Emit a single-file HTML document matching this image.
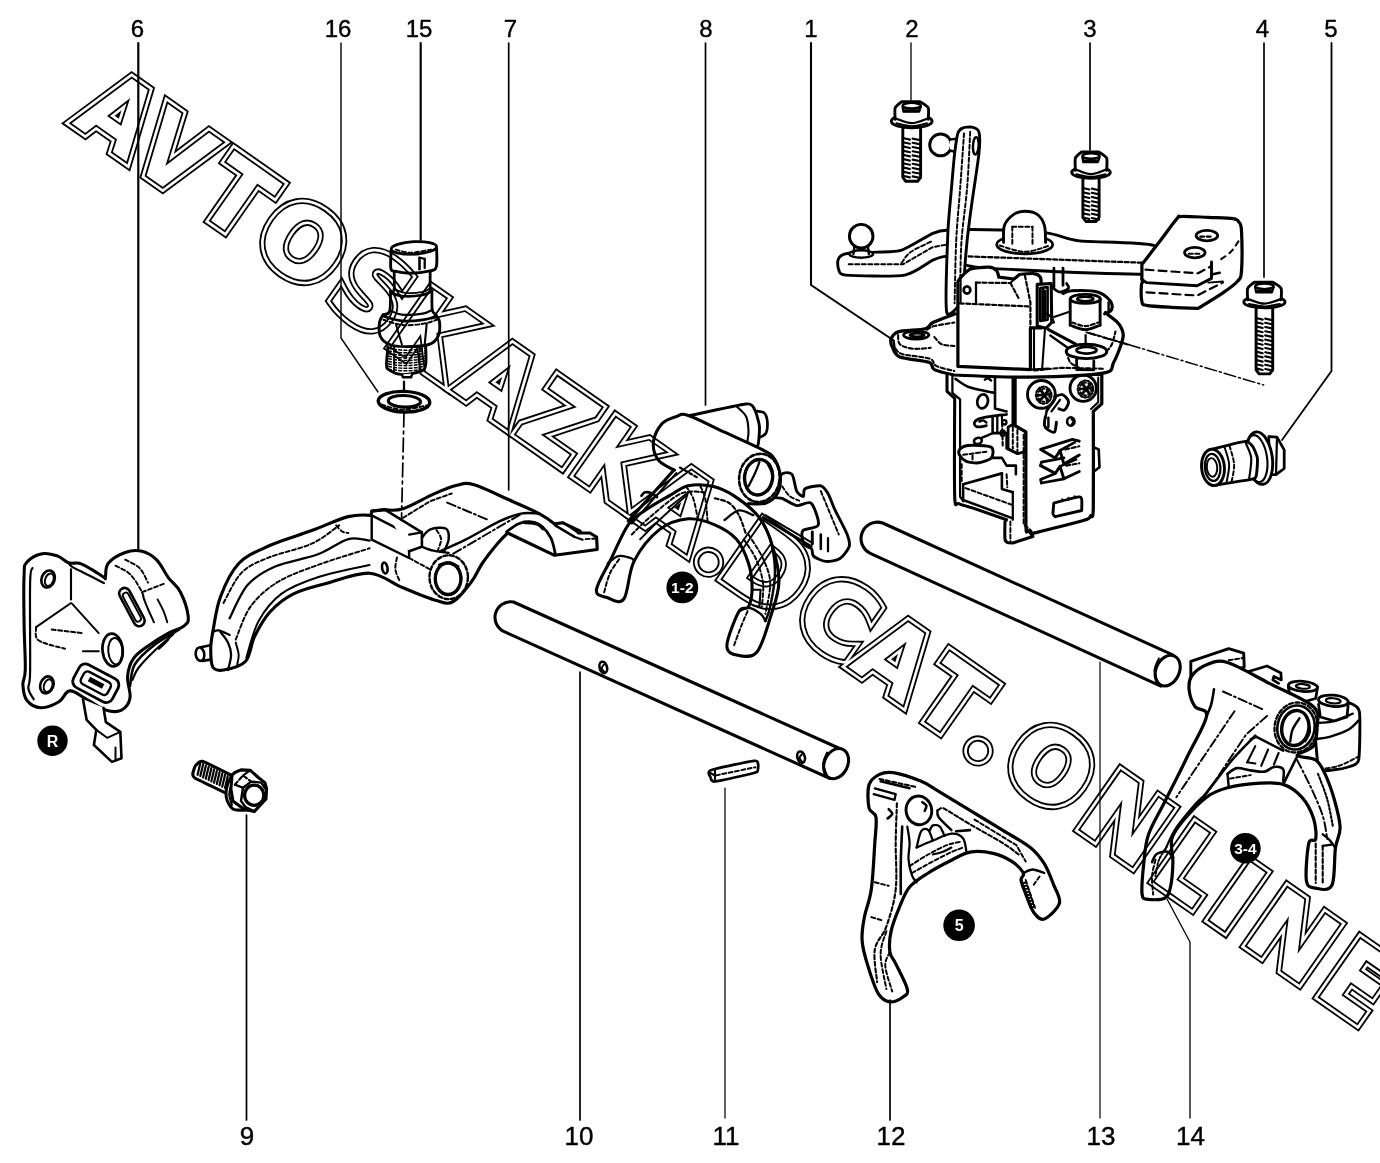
<!DOCTYPE html>
<html><head><meta charset="utf-8"><title>Diagram</title>
<style>
html,body{margin:0;padding:0;background:#fff;}
svg{display:block}
svg text{font-family:"Liberation Sans",sans-serif;}
.o{fill:#fff;stroke:#000;stroke-linejoin:round;stroke-linecap:round}
.n{fill:none;stroke:#000;stroke-linejoin:round;stroke-linecap:round}
.t{fill:none;stroke:#222;stroke-linejoin:round;stroke-linecap:round}
.k{fill:#000;stroke:none}
</style></head><body>
<svg width="1380" height="1163" viewBox="0 0 1380 1163">
<rect width="1380" height="1163" fill="#fff"/>
<!-- 20_p06.svg -->
<g>
<path class="o" stroke-width="3.07" d="M24.1 575.4C24.6 564.1 23.6 566.1 27 562.1C30.3 558.1 36.5 554.8 42.1 553.7C47.8 552.6 52.9 554.4 57.8 556.1C62.6 557.8 64.6 561.5 68.6 562.8C72.6 564.2 75.2 562.1 79.4 563.3C83.6 564.5 87 566.8 91.5 569.3C96 571.9 101.4 575.8 104 577.3C106.5 578.7 104.6 579.8 105.4 577.3C106.2 574.7 104.7 567.9 108.3 563.3C111.9 558.8 119 554.7 125.2 552.5C131.3 550.3 136.3 550 142 551.3C147.7 552.6 151.6 554.9 156.4 559.7C161.3 564.6 164.1 571.8 168.5 577.8C172.9 583.7 176.9 585.1 180.5 592.2C184.1 599.3 187.5 610.1 188.2 616.3C188.9 622.4 187.7 622.8 184.1 625.9C180.5 629 174.9 629.6 168.5 633.1C162.1 636.6 155.6 640.5 149.2 645.2C142.8 649.8 137.5 652.7 133.6 658.4C129.6 664.1 128.2 669.2 127.6 676.4C126.9 683.7 131.1 691.9 130 698.1C128.9 704.3 126 707.9 121.5 710.1C117.1 712.3 112.3 712.1 105.9 710.1C99.5 708.1 93.3 702.8 86.6 699.3C80 695.8 74.9 690.4 69.8 690.9C64.7 691.3 64.3 698.6 59 701.7C53.7 704.8 46.8 707.9 40.9 707.7C35 707.5 30.3 704.7 27 700.5C23.6 696.3 23.2 690.6 22.9 684.9C22.6 679.1 25.1 680.5 25.3 669.2C25.5 658 24.3 640.7 24.1 623.5C23.8 606.3 23.5 586.6 24.1 575.4Z"/>
<path class="n" stroke-width="2.19" d="M32.5 568.1C32.1 570.5 30.5 565.3 30.1 582.6C29.7 599.8 30.4 654 30.1 671.6C29.8 689.3 27.8 683.9 28.4 688.5C29 693.1 32.8 697.5 33.7 699.3"/>
<path class="n" stroke-width="2.19" d="M68.6 562.8C69.2 563.5 69.2 565 72.2 566.9C75.2 568.8 81.3 571.5 86.6 574.2C91.9 576.8 101.1 581.6 104 583.1"/>
<ellipse class="o" stroke-width="2.59" cx="48.1" cy="579" rx="6.5" ry="8.7" transform="rotate(20 48.1 579)"/>
<ellipse class="n" stroke-width="1.95" cx="49.3" cy="579.7" rx="4.1" ry="6.5" transform="rotate(20 49.3 579.7)"/>
<ellipse class="o" stroke-width="2.59" cx="46.9" cy="684.9" rx="6.5" ry="8.7" transform="rotate(20 46.9 684.9)"/>
<ellipse class="n" stroke-width="1.95" cx="48.1" cy="685.6" rx="4.1" ry="6.5" transform="rotate(20 48.1 685.6)"/>
<ellipse class="o" stroke-width="2.75" cx="112.6" cy="650" rx="10.1" ry="16.4" transform="rotate(-5 112.6 650)"/>
<ellipse class="n" stroke-width="1.95" cx="115.5" cy="651.2" rx="7.2" ry="13.2" transform="rotate(-5 115.5 651.2)"/>
<g transform="rotate(62 131.9 607.1)">
<rect class="o" stroke-width="2.6" x="110.9" y="601.6" width="42.0" height="11.0" rx="5.5"/>
<rect class="n" stroke-width="1.9" x="115.9" y="604.1" width="32.0" height="6.0" rx="3"/>
</g>
<g transform="rotate(28 95.8 683.2)">
<rect class="o" stroke-width="2.8" x="73.8" y="670.2" width="44.0" height="26.0" rx="7"/>
<rect class="n" stroke-width="2.4" x="80.8" y="676.2" width="30.0" height="14.0" rx="4"/>
<rect class="k" x="87.8" y="680.2" width="16.0" height="5.0"/>
</g>
<path class="n" stroke-width="2.11" d="M71 569.3L71 599.4"/>
<path class="n" stroke-width="1.95" d="M71 603L36.1 627.1"/>
<path class="n" stroke-width="1.95" d="M36.1 627.1C36.5 629.3 33.7 636.7 38.5 640.3C43.3 643.9 60.6 647.4 65 648.8" stroke-dasharray="4 2.5"/>
<path class="n" stroke-width="1.95" d="M72.2 603.8L98.7 633.1"/>
<path class="n" stroke-width="2.11" d="M83 651.2L98.7 651.2"/>
<path class="n" stroke-width="1.95" d="M51.7 629.5L81.8 633.1" stroke-dasharray="4 2.5"/>
<path class="n" stroke-width="1.95" d="M115.5 565.7C117.9 567.1 125.8 570.1 130 574.2C134.2 578.2 138.4 585.6 140.8 589.8C143.2 594 143.8 597.8 144.4 599.4" stroke-dasharray="4 2.5"/>
<path class="n" stroke-width="1.95" d="M125.2 559.7C127.6 561.1 135.8 564.3 139.6 568.1C143.4 571.9 146.6 580.2 148 582.6" stroke-dasharray="4 2.5"/>
<path class="n" stroke-width="1.95" d="M142 592.2L163.7 583.8" stroke-dasharray="4 2.5"/>
<path class="n" stroke-width="1.95" d="M143.2 597C144 599 146.2 604.8 148 609C149.8 613.3 153 620.1 154 622.3"/>
<path class="n" stroke-width="1.95" d="M157.6 599.4C158.6 601.4 162.1 607.6 163.7 611.5C165.3 615.3 166.7 620.5 167.3 622.3"/>
<path class="n" stroke-width="2.59" d="M179.3 629.5C175.1 632.1 161.5 639.3 154 645.2C146.6 651 138.8 657.6 134.8 664.4C130.8 671.2 130.8 682.5 130 686.1"/>
<path class="n" stroke-width="2.11" d="M173.3 634.3C170.1 637.1 159.8 645.6 154 651.2C148.2 656.8 142 663.2 138.4 668C134.8 672.8 133.4 678 132.4 680"/>
<path class="n" stroke-width="2.11" d="M168.5 633.1C168.5 634.1 170.1 636.5 168.5 639.1C166.9 641.7 160.4 647.2 158.8 648.8"/>
<path class="o" stroke-width="2.59" d="M83 699.3L86.6 719.8L96.3 729.9L93.9 745L111.9 761.9L121.5 758.3L120.3 731.8L105.9 722.2L103.5 707.7"/>
<path class="n" stroke-width="1.95" d="M96.3 729.9L107.1 737.8L120.3 731.8"/>
<path class="n" stroke-width="1.95" d="M115.5 747.4L115.5 760.7"/>
<circle class="k" cx="52.5" cy="740.7" r="15.2"/>
<text x="52.5" y="746.5" font-size="16" font-weight="bold" fill="#fff" text-anchor="middle">R</text>
</g>

<!-- 21_p07.svg -->
<g>
<path class="o" stroke-width="2.59" d="M200.7 647.2L218.9 643.5L218.9 658.4L202.2 660.9"/>
<ellipse class="o" stroke-width="2.59" cx="200" cy="654.2" rx="4.3" ry="6.7" transform="rotate(-8 200 654.2)"/>
<path class="o" stroke-width="3.15" d="M212.8 632C214.4 623.3 216.1 608.4 220.4 597C224.7 585.5 230.6 572 238.7 563.5C246.8 555 257 551.3 269.1 545.8C281.3 540.3 298.6 535.5 311.7 530.6C324.9 525.7 338.4 519.1 348.3 516.6C358.2 514.1 371.1 515.4 371.1 515.4L371.7 511.1L384.8 509.6C384.8 509.6 394.9 511.3 403 508.7C411.2 506.1 424.5 498 433.5 494.1C442.5 490.2 450.2 486.8 456.9 485.3C463.7 483.7 465.5 482.3 474 484.7C482.4 487 496.9 494.4 507.7 499.3C518.6 504.1 531.3 509.5 539.1 513.6C546.9 517.7 554.6 523.9 554.6 523.9L562.5 522.7L580.2 531.2L578.3 533L589.9 533L596.6 537L597.2 549.5L554.6 555.3L507.7 533C507.7 533 501.7 538.6 497.4 543.7C493.1 548.8 486.5 557.1 482.2 563.5C477.9 569.8 476.3 575.4 471.5 581.7C466.7 588.1 459.1 598.4 453.3 601.5C447.4 604.7 444.9 602.9 436.5 600.6C428.2 598.3 414.2 592.4 403 587.8C391.9 583.3 382.2 574 369.6 573.2C356.9 572.5 339.6 579.8 327 583.3C314.3 586.7 303 589.1 293.5 593.9C283.9 598.7 276.2 605.1 269.7 612.2C263.2 619.3 258.6 628.3 254.5 636.5C250.5 644.7 250.6 655.9 245.4 661.5C240.2 667.1 228.9 669.1 223.5 670C218.1 670.9 215 670.5 212.8 667C210.7 663.4 210.7 654.5 210.7 648.7C210.7 642.9 211.2 640.6 212.8 632Z"/>
<path class="n" stroke-width="2.27" d="M220.4 632C221.7 633.7 226.3 638.8 228 642.6C229.8 646.4 231.1 650.2 231.1 654.8C231.1 659.3 228.6 667.5 228 670"/>
<path class="n" stroke-width="1.95" d="M235.7 642.6C236.2 644.6 238.4 651.1 238.7 654.8C238.9 658.4 237.4 662.9 237.2 664.5"/>
<path class="n" stroke-width="2.27" d="M212.8 632C213.8 631.7 216.1 629.9 218.9 630.4C221.7 630.9 227.8 634.2 229.6 635"/>
<path class="n" stroke-width="1.95" d="M223.5 603C226.5 598 234.1 580.2 241.7 572.6C249.3 565 257.5 562.2 269.1 557.4C280.8 552.6 300.1 549 311.7 543.7C323.4 538.4 334.6 528.5 339.1 525.4" stroke-dasharray="4 2.5"/>
<path class="n" stroke-width="2.27" d="M229.6 618.3C232.6 612.7 240.2 593.4 247.8 584.8C255.4 576.2 263.6 571.6 275.2 566.5C286.9 561.4 305.7 558.9 317.8 554.3C330 549.8 339.6 541.4 348.3 539.1C356.9 536.8 366 540.4 369.6 540.7"/>
<path class="n" stroke-width="1.95" d="M235.7 639.6C238.2 634 243.8 615.7 250.9 606.1C258 596.4 267.1 588.6 278.3 581.7C289.4 574.9 302.6 570.6 317.8 565C333 559.4 360.9 551.1 369.6 548.3" stroke-dasharray="4 2.5"/>
<path class="n" stroke-width="1.95" d="M246.3 657.8C248.3 651.7 252.6 632 258.5 621.3C264.3 610.7 271.4 601.3 281.3 593.9C291.2 586.6 303.1 582 317.8 577.2C332.5 572.4 360.9 567 369.6 565"/>
<path class="n" stroke-width="1.95" d="M336.1 525.4C337.1 526.4 340.1 530.3 342.2 531.5C344.2 532.8 347.2 532.8 348.3 533" stroke-dasharray="4 2.5"/>
<path class="n" stroke-width="2.43" d="M371.7 511.1L371.7 539.7L409.1 558L409.1 534.6L371.7 515.4"/>
<path class="o" stroke-width="2.59" d="M384.8 509.6L421.9 532.4L421.9 546.7L409.1 551.3"/>
<path class="n" stroke-width="2.27" d="M409.1 534.6L421.9 532.4"/>
<path class="n" stroke-width="2.59" d="M371.7 511.1L384.8 509.6"/>
<path class="n" stroke-width="2.43" d="M421.9 537.6C423.3 536.2 426.5 530.9 430.4 529.4C434.4 527.9 442.6 526.9 445.7 528.5C448.7 530.1 449 535.3 448.7 539.1C448.4 542.9 444.9 549.3 444.1 551.3"/>
<path class="n" stroke-width="1.95" d="M436.5 530C437.3 531.5 440.8 535.8 441.1 539.1C441.3 542.4 438.6 548 438 549.8" stroke-dasharray="4 2.5"/>
<path class="n" stroke-width="2.27" d="M421.9 546.7C423.8 547.4 429 549.7 433.5 550.7C437.9 551.7 446.2 552.5 448.7 552.8"/>
<path class="n" stroke-width="1.95" d="M403 517.8L430.4 501.1L451.7 493.5" stroke-dasharray="4 2.5"/>
<path class="n" stroke-width="1.95" d="M447.2 502.6L488.3 520" stroke-dasharray="9 3 2 3"/>
<path class="n" stroke-width="2.43" d="M439.9 551.3C444.2 549.3 456.1 544.5 466 539.4C476 534.4 490.7 525.5 499.8 521.2C509 516.9 514.3 514.8 520.8 513.6C527.4 512.3 536 513.6 539.1 513.6"/>
<path class="n" stroke-width="1.95" d="M453.3 553.7L520.8 514.2" stroke-dasharray="9 3 2 3"/>
<path class="n" stroke-width="2.75" d="M506.5 531.8C508.5 530.5 514 525.6 518.1 523.9C522.2 522.2 527.2 521.4 531.2 521.8C535.1 522.2 538.5 523.6 541.8 526.3C545.1 529.1 548.7 533.8 551 538.2C553.2 542.7 554.5 550.6 555.2 553.1"/>
<path class="n" stroke-width="3.55" d="M524.8 522.4C526.8 522.6 533.9 522.9 537 523.9C540 524.9 542 527.7 543 528.5"/>
<path class="n" stroke-width="2.11" d="M578.3 533L567.4 525.4L562.5 522.7"/>
<path class="n" stroke-width="2.59" d="M574.1 536.7L555.2 525.4"/>
<path class="n" stroke-width="2.27" d="M574.1 536.7L582.6 539.7"/>
<path class="n" stroke-width="1.95" d="M585.7 539.1L596.6 538.5" stroke-dasharray="4 2.5"/>
<ellipse class="n" stroke-width="2.43" cx="448.7" cy="577.2" rx="19.2" ry="21.9" stroke-dasharray="4 2.5"/>
<ellipse class="o" stroke-width="3.39" cx="448.1" cy="578.7" rx="12.8" ry="15.8"/>
<path class="n" stroke-width="1.95" d="M457.8 566.5C458.4 568.6 461.7 574.6 461.5 578.7C461.2 582.8 457.2 588.8 456.3 590.9"/>
<path class="n" stroke-width="3.23" d="M439.6 565C441.1 564.6 445.7 562.6 448.7 562.9C451.7 563.1 456.3 565.9 457.8 566.5"/>
<ellipse class="n" stroke-width="2.59" cx="384.8" cy="568" rx="2.7" ry="5.5" transform="rotate(-10 384.8 568)"/>
<path class="n" stroke-width="1.95" d="M397 557.4C396.7 559.4 394.9 565.5 395.4 569.6C395.9 573.6 399.2 579.7 400 581.7" stroke-dasharray="4 2.5"/>
<path class="n" stroke-width="1.95" d="M409.1 558L430.4 569.6" stroke-dasharray="4 2.5"/>
</g>

<!-- 22_p15.svg -->
<g>
<path class="n" stroke-width="2.27" d="M404 381.7L404 391"/>
<path class="n" stroke-width="1.7" stroke-dasharray="14 4 3 4" d="M404.0 413.0L401.5 520.0"/>
<path class="o" stroke-width="2.75" d="M387.9 346.6C387.7 349.7 386.2 361.2 386.5 365.2C386.7 369.1 387 368.8 389.6 370.3C392.1 371.9 396.8 374.3 401.9 374.5C407.1 374.7 416.6 372.9 420.5 371.4C424.5 369.8 424.8 369.5 425.7 365.2C426.6 360.9 425.7 348.8 425.7 345.6"/>
<g stroke="#000" stroke-width="1.5" fill="none" stroke-dasharray="4 1.2">
<path d="M387.9 348.3Q406.6 352.3 425.3 347.9"/>
<path d="M387.9 350.8Q406.6 354.8 425.3 350.5"/>
<path d="M387.9 353.4Q406.6 357.4 425.3 353.1"/>
<path d="M387.9 356.0Q406.6 360.0 425.3 355.7"/>
<path d="M387.9 358.6Q406.6 362.6 425.3 358.2"/>
<path d="M387.9 361.2Q406.6 365.2 425.3 360.8"/>
<path d="M387.9 363.7Q406.6 367.7 425.3 363.4"/>
<path d="M387.9 366.3Q406.6 370.3 425.3 366.0"/>
<path d="M387.9 368.9Q406.6 372.9 425.3 368.6"/>
</g>
<path class="n" stroke-width="1.95" d="M394.1 347.6L394.1 371.4" stroke-dasharray="4 2.5"/>
<path class="n" stroke-width="1.95" d="M419.5 347.6L419.5 371.8" stroke-dasharray="4 2.5"/>
<path class="o" stroke-width="2.43" d="M401.9 374.5L403 377.2L411.2 377.2L412.3 373.4"/>
<path class="o" stroke-width="2.91" d="M383.4 314.6C382.7 315.8 380.2 318.2 379.6 321.8C379.1 325.4 378.6 332.5 380.3 336.3C381.9 340.1 385.3 342.8 389.6 344.5C393.9 346.3 399.5 346.6 406.1 346.6C412.6 346.6 423.5 346.3 428.8 344.5C434.1 342.8 436.3 340.1 438.1 336.3C439.9 332.5 439.9 325.3 439.5 321.8C439.2 318.4 436.6 316.7 436 315.6"/>
<path class="n" stroke-width="1.95" d="M395.8 323.9L401.9 344.5"/>
<path class="n" stroke-width="2.11" d="M426.7 323.9L424.7 344.5"/>
<path class="n" stroke-width="1.95" d="M383.4 319.8C386.5 320.6 395.4 324.2 401.9 324.9C408.5 325.6 416.7 324.8 422.6 323.9C428.4 323 434.6 320.4 437 319.8" stroke-dasharray="4 2.5"/>
<path class="o" stroke-width="2.75" d="M390.6 290.9C390.4 294.3 390.8 307.4 389.6 311.5C388.4 315.6 381.3 314.1 383.4 315.6C385.4 317.2 395.4 320.1 401.9 320.8C408.5 321.5 416.9 320.6 422.6 319.8C428.3 318.9 434.4 317.2 436 315.6C437.6 314.1 433 314.6 432.3 310.5C431.6 306.3 432 294.1 431.9 290.9"/>
<path class="n" stroke-width="2.11" d="M390 310.5C392 311.2 396.5 314.1 401.9 314.6C407.4 315.1 417.5 314.4 422.6 313.6C427.7 312.8 430.7 310.5 432.3 309.8"/>
<path class="o" stroke-width="2.75" d="M394.1 270.2C394.1 273.5 394.7 286.2 394.1 289.8C393.5 293.4 389.3 290.9 390.6 291.9C391.9 292.9 396.6 295.5 401.9 296C407.3 296.5 417.6 295.8 422.6 295C427.6 294.1 430.6 291.9 431.9 290.9C433.2 289.8 430.5 292.2 430.2 288.8C430 285.3 430.2 273.3 430.2 270.2"/>
<path class="n" stroke-width="1.95" d="M394.1 289.2C396.1 289.8 401.3 292.5 406.1 292.9C410.8 293.4 418.6 292.6 422.6 291.9C426.6 291.1 429 289 430.2 288.4"/>
<path class="o" stroke-width="2.91" d="M391.2 249.6C391.1 252.7 390.2 264.5 390.8 268.1C391.4 271.8 391.5 270.4 394.7 271.2C398 272.1 404.5 273.3 410.2 273.3C415.9 273.3 424.5 272.3 428.8 271.2C433.1 270.2 434.9 270.9 436.2 267.1C437.5 263.3 436.6 251.6 436.6 248.5"/>
<ellipse class="o" stroke-width="2.75" cx="413.9" cy="247.9" rx="22.7" ry="6.2" transform="rotate(-3 413.9 247.9)"/>
<path class="n" stroke-width="1.95" d="M395.8 249.6C398.2 250.1 404.4 252.7 410.2 252.7C416.1 252.7 427.4 250.1 430.9 249.6" stroke-dasharray="4 2.5"/>
<path class="n" stroke-width="2.59" d="M419.5 257.8L419.5 269.2"/>
<path class="n" stroke-width="2.27" d="M424.7 258.8L424.7 268.1"/>
<path class="n" stroke-width="2.11" d="M419.5 257.8L424.7 258.8"/>
<path class="n" stroke-width="2.27" d="M401.9 254.1L418.5 254.1"/>
<ellipse class="o" stroke-width="3.39" cx="404" cy="401.7" rx="25.8" ry="10.3" transform="rotate(2 404 401.7)"/>
<ellipse class="o" stroke-width="3.07" cx="404.4" cy="401.3" rx="16.1" ry="5.8" transform="rotate(2 404.4 401.3)"/>
<path class="n" stroke-width="1.95" d="M381.3 404.4C384.7 405.3 394.4 409.4 401.9 409.6C409.5 409.8 422.6 406.1 426.7 405.5" stroke-dasharray="4 2.5"/>
</g>

<!-- 23_p08.svg -->
<g>
<path class="o" stroke-width="2.75" d="M757 411.2C758.2 411.5 762.5 411.2 764.2 412.9C765.9 414.6 767 417.9 767.3 421.3C767.6 424.7 767.4 430.5 765.9 433.3C764.3 436.1 759.4 437.3 758.2 438.2"/>
<path class="o" stroke-width="2.91" d="M688.3 416C694.1 414.8 739.5 404.6 746.1 404C752.7 403.3 753.2 407 754.5 409.3C755.9 411.5 759 422.5 759.4 426.1C759.7 429.8 758.8 443.8 757.7 445.9C756.6 447.9 749.4 446.5 748.5 446.6"/>
<path class="n" stroke-width="2.11" d="M736.5 406.4C738.1 408.1 744.1 412.4 746.1 416.5C748.1 420.6 748.3 426.7 748.5 430.9C748.7 435.1 747.5 440 747.3 441.8"/>
<path class="o" stroke-width="2.91" d="M781 474.7C783.6 471.9 789.8 472.1 791.9 474.3C794 476.4 795.1 488.2 796.7 491.1C798.2 494.1 802.3 496.7 803.4 496.4C804.5 496.1 802.8 490.1 805.1 488.7C807.4 487.3 817.7 485.2 820.8 485.8C823.8 486.5 826.1 490.3 828 493.5C829.9 496.8 832.6 504.9 835.2 510.4C837.8 515.8 845.4 529.6 847.2 534.5C849.1 539.3 850.1 543.3 849.2 546.5C848.2 549.7 843.2 556.5 840 558.5C836.9 560.5 829.1 561.7 825.6 561.4C822 561.1 815.4 557.8 813.5 556.1C811.7 554.5 812.9 550.5 811.6 548.9C810.3 547.3 805.1 546.5 803.9 544.1C802.7 541.7 800.8 533.4 802.7 530.8C804.6 528.3 817.2 528.5 818.3 524.8C819.5 521.1 814 505.7 811.1 503.2C808.2 500.6 800.5 506.2 796.7 505.6C792.8 504.9 785.4 499.6 782.2 498.3C779 497.1 772.8 499.1 772.6 495.9C772.4 492.8 778.5 477.6 781 474.7Z"/>
<path class="n" stroke-width="1.95" d="M820.8 491.1L838.8 534.5" stroke-dasharray="4 2.5"/>
<path class="n" stroke-width="2.91" d="M812.3 532L812.3 544.1"/>
<path class="n" stroke-width="2.59" d="M820.8 534.5L820.8 548.9"/>
<path class="n" stroke-width="2.27" d="M828 538.1L828 551.3"/>
<path class="n" stroke-width="1.95" d="M782.2 486.3C783.4 487.9 786.6 493.5 789.5 495.9C792.3 498.3 797.5 499.9 799.1 500.7" stroke-dasharray="4 2.5"/>
<path class="o" stroke-width="0" d="M688.3 415.5C696.4 418.1 711.8 426.3 724.5 432.1C737.1 438 755.8 446.1 764.2 450.7C772.6 455.3 772.3 455.5 775 459.8C777.7 464.2 779.9 471.1 780.3 476.7C780.7 482.3 779.9 489.1 777.4 493.5C774.9 497.9 770.2 501.5 765.4 503.2C760.6 504.8 757 505.8 748.5 503.2C740.1 500.5 727.3 493 714.8 487.5C702.4 482 683.3 474.5 673.9 469.9C664.5 465.3 661.7 464.5 658.2 459.8C654.8 455.1 652.8 447.8 653.4 441.8C654 435.7 658 427.9 661.9 423.7C665.7 419.5 671.9 417.8 676.3 416.5C680.7 415.1 680.3 412.9 688.3 415.5Z" stroke="none"/>
<path class="n" stroke-width="3.07" d="M674.4 470.2C671.7 468.4 661.7 464.6 658.2 459.8C654.8 455.1 652.8 447.8 653.4 441.8C654 435.7 658 427.9 661.9 423.7C665.7 419.5 671.9 417.8 676.3 416.5C680.7 415.1 680.3 412.9 688.3 415.5C696.4 418.1 711.8 426.3 724.5 432.1C737.1 438 755.8 446.1 764.2 450.7C772.6 455.3 772.3 455.5 775 459.8C777.7 464.2 779.9 471.1 780.3 476.7C780.7 482.3 779.9 489.1 777.4 493.5C774.9 497.9 770.2 501.5 765.4 503.2C760.6 504.8 751.3 503.6 748.5 503.6"/>
<path class="n" stroke-width="2.11" d="M679.9 467.5L698 477.9" stroke-dasharray="3 2.5"/>
<ellipse class="n" stroke-width="2.59" cx="759.4" cy="477.9" rx="20.2" ry="24.1" transform="rotate(8 759.4 477.9)" stroke-dasharray="4 2.5"/>
<ellipse class="o" stroke-width="3.39" cx="758.6" cy="477.2" rx="14" ry="17.8" transform="rotate(8 758.6 477.2)"/>
<path class="n" stroke-width="2.27" d="M759.4 462.2C758.6 464.2 756.4 470.3 754.5 474.3C752.7 478.3 749.5 484.3 748.5 486.3"/>
<path class="n" stroke-width="1.95" d="M767.8 464.6C768.6 466.6 772.6 472.3 772.6 476.7C772.6 481.1 768.6 488.7 767.8 491.1"/>
<path class="o" stroke-width="3.07" d="M688.3 485.8C695.6 484.2 704.8 484.6 712.4 486.3C720 488 726.3 490.7 734.1 495.9C741.9 501.1 752.9 509.2 759.4 517.6C765.8 526 769.4 535.7 772.6 546.5C775.9 557.3 779.2 571 778.9 582.6C778.5 594.2 774.3 604.8 770.7 616.3C767 627.9 762.5 645.4 757 651.9C751.5 658.4 742.7 656.4 737.7 655.3C732.7 654.3 726.7 653 726.9 645.7C727.1 638.4 735.3 618 738.9 611.5C742.5 605 746.3 610.7 748.5 606.7C750.7 602.7 752.1 594.6 752.1 587.4C752.1 580.2 751.1 571.4 748.5 563.3C745.9 555.3 742.1 545.7 736.5 539.3C730.9 532.8 722.8 528.2 714.8 524.8C706.8 521.4 697.6 518 688.3 518.8C679.1 519.6 668.5 522.6 659.4 529.6C650.4 536.7 640.1 549.4 634.2 560.9C628.2 572.5 628.4 592.9 623.8 599C619.3 605.1 611.5 599.1 607 597.5C602.4 596 595.6 596.3 596.4 589.8C597.1 583.3 606 569.4 611.3 558.5C616.6 547.7 622.5 532.8 628.2 524.8C633.8 516.8 638.2 515.2 645 510.4C651.8 505.6 661.9 500 669.1 495.9C676.3 491.8 681.1 487.4 688.3 485.8Z"/>
<path class="n" stroke-width="1.95" d="M631.8 534.5C635.2 531.2 644 522 652.2 515.2C660.5 508.4 672.3 497.3 681.1 493.5C689.9 489.7 701.2 492.5 705.2 492.3" stroke-dasharray="4 2.5"/>
<path class="n" stroke-width="1.95" d="M640.2 539.3C643.4 536.1 651.8 527.2 659.4 520C667.1 512.8 681.5 499.9 685.9 495.9"/>
<path class="n" stroke-width="3.07" d="M673.9 469.9L628.2 521.2"/>
<path class="n" stroke-width="1.95" d="M676.3 473.1L631.8 523.6"/>
<path class="n" stroke-width="2.59" d="M641.4 495.9C642 495.3 643.2 492.7 645 492.3C646.8 491.9 650.2 492.7 652.2 493.5C654.2 494.3 656.2 496.5 657 497.1"/>
<path class="n" stroke-width="1.95" d="M685.9 486.3C687.1 488.3 691.1 492.7 693.2 498.3C695.2 504 697.2 516.4 698 520" stroke-dasharray="4 2.5"/>
<path class="n" stroke-width="1.95" d="M700.4 486.3C701.2 488.3 704 492.5 705.2 498.3C706.4 504.2 707.2 517.4 707.6 521.2" stroke-dasharray="4 2.5"/>
<path class="n" stroke-width="2.11" d="M714.8 498.3C717.2 499.1 725.3 500.3 729.3 503.2C733.3 506 736.1 510 738.9 515.2C741.7 520.4 744.9 531.2 746.1 534.5" stroke-dasharray="4 2.5"/>
<path class="n" stroke-width="2.27" d="M724.5 520C726.9 518.4 734.1 511.2 738.9 510.4C743.7 509.6 750.9 514.4 753.3 515.2"/>
<path class="n" stroke-width="1.95" d="M743.7 539.3C745.7 542.5 752.5 551.3 755.8 558.5C759 565.8 762 574.6 763 582.6C764 590.6 762 602.7 761.8 606.7" stroke-dasharray="4 2.5"/>
<path class="n" stroke-width="1.95" d="M748.5 534.5C750.9 538.5 759.4 550.5 763 558.5C766.6 566.6 769.8 573.4 770.2 582.6C770.6 591.8 766.2 608.7 765.4 613.9" stroke-dasharray="4 2.5"/>
<path class="n" stroke-width="2.43" d="M759.4 517.6C761.2 521.2 767.6 530 770.2 539.3C772.8 548.5 775 561.7 775 573C775 584.2 771.8 598.7 770.2 606.7C768.6 614.7 766.2 618.7 765.4 621.1"/>
<path class="n" stroke-width="2.91" d="M763 517.6L811.1 546.5"/>
<path class="n" stroke-width="1.95" d="M765.4 515.2L812.3 542.9"/>
<path class="n" stroke-width="2.27" d="M607.7 563.3C609.5 562.1 614.5 556.9 618.5 556.1C622.5 555.3 629.2 557.5 631.8 558.5C634.4 559.5 633.8 561.5 634.2 562.1"/>
<path class="n" stroke-width="1.95" d="M604.1 592.2C605.1 589 607.5 578.6 610.1 573C612.7 567.4 618.1 560.9 619.7 558.5" stroke-dasharray="4 2.5"/>
<path class="n" stroke-width="2.27" d="M738.9 611.5C740.5 610.9 744.9 607.5 748.5 607.9C752.1 608.3 757.8 611.7 760.6 613.9C763.4 616.1 764.6 619.9 765.4 621.1"/>
<path class="n" stroke-width="1.95" d="M734.1 645.2C735.3 642 738.9 632 741.3 625.9C743.7 619.9 747.3 611.9 748.5 609.1" stroke-dasharray="4 2.5"/>
<path class="n" stroke-width="2.11" d="M753.3 589.8L760.6 589.8L759.4 606.7L753.3 605.5"/>
<circle class="k" cx="682.3" cy="587.4" r="15.9"/>
<text x="682.3" y="593" font-size="15.5" font-weight="bold" fill="#fff" text-anchor="middle">1-2</text>
</g>

<!-- 24_p01a.svg -->
<g>
<path class="o" stroke-width="2.91" d="M837.8 261.1C838 259.5 839.6 256.7 840.9 255.8C842.2 254.9 844.5 253.8 848.7 253.3C852.9 252.9 870.6 252.5 876.7 252.1C882.9 251.7 895.1 252.4 901.7 250.2C908.2 248 927.4 235.8 932.8 233.4C938.3 231 940.4 230.4 948.4 230C956.4 229.6 989.7 229.6 1001.4 230C1013 230.3 1039 231.8 1048.1 233.1C1057.2 234.4 1066.9 239.4 1079.3 240.9C1091.6 242.3 1145.3 241.7 1154.1 245.5C1162.8 249.4 1172.2 270.9 1154.1 273.6C1135.9 276.3 1019.9 269.8 998.3 268.9C976.6 268 974.7 267.3 968.7 265.8C962.7 264.3 951 257.1 946.8 256.4C942.7 255.8 937.7 258 932.8 260.2C927.9 262.4 915 273.4 904.8 275.1C894.6 276.9 853.3 275.8 845.6 275.1C837.9 274.5 839.6 271.2 838.7 269.5C837.8 267.9 837.5 262.7 837.8 261.1Z"/>
<path class="n" stroke-width="2.27" d="M968.7 256.4L1141.6 262.7" stroke-dasharray="4 2.5"/>
<path class="n" stroke-width="1.95" d="M848.7 264.2L903.2 264.2L932.8 247.1L946.8 244.6" stroke-dasharray="4 2.5"/>
<path class="n" stroke-width="1.95" d="M901.7 262.7C903.2 260.9 905.8 255.4 911 251.8C916.2 248.1 929.2 242.7 932.8 240.9" stroke-dasharray="4 2.5"/>
<ellipse class="o" stroke-width="2.43" cx="861.2" cy="254" rx="11.8" ry="3.7"/>
<path class="n" stroke-width="2.43" d="M854.3 247.1L853.4 254"/>
<path class="n" stroke-width="2.43" d="M868 247.1L868.9 254"/>
<ellipse class="o" stroke-width="2.91" cx="861.2" cy="236.2" rx="11.8" ry="11.8"/>
<path class="n" stroke-width="2.11" d="M853.4 245.5C854.7 246.1 858.6 248.7 861.2 248.7C863.8 248.7 867.7 246.1 868.9 245.5"/>
<ellipse class="o" stroke-width="2.75" cx="1024.7" cy="244.6" rx="28" ry="9.3"/>
<path class="n" stroke-width="1.95" d="M999.8 245.5C1004 246.6 1016.4 251.8 1024.7 251.8C1033.1 251.8 1045.5 246.6 1049.7 245.5" stroke-dasharray="4 2.5"/>
<path class="o" stroke-width="2.91" d="M1003.6 242.4C1003.7 239.6 1002.8 230 1004.5 225.3C1006.2 220.6 1010.5 216.7 1013.8 214.4C1017.2 212 1020.9 211.3 1024.7 211.3C1028.6 211.3 1033.9 212 1037.2 214.4C1040.5 216.7 1043 220.6 1044.4 225.3C1045.8 230 1045.4 239.6 1045.6 242.4"/>
<path class="n" stroke-width="1.95" d="M1012.3 226.8L1012.3 244" stroke-dasharray="4 2.5"/>
<path class="n" stroke-width="1.95" d="M1032.5 226.8L1032.5 245.5" stroke-dasharray="4 2.5"/>
<path class="n" stroke-width="1.95" d="M1012.3 226.8L1032.5 226.8" stroke-dasharray="4 2.5"/>
<path class="o" stroke-width="3.23" d="M1141.9 264.5C1141.9 264.5 1155.1 247.4 1161 239.7C1166.8 232.1 1173.5 222.4 1177 218.6C1180.4 214.7 1176.4 216.7 1181.6 216.5C1186.8 216.3 1199.8 217 1208.4 217.3C1217 217.7 1228.1 217.8 1233.2 218.6C1238.3 219.4 1237.5 220.1 1238.9 222.2C1240.3 224.3 1241 222.8 1241.5 231C1241.9 239.1 1242.1 262.8 1241.5 271.2C1240.8 279.6 1240.4 277.9 1237.3 281.5C1234.2 285.1 1229.4 288.4 1222.9 292.9C1216.3 297.4 1198.1 308.4 1198.1 308.4C1198.1 308.4 1179.9 307.8 1171.3 307.3C1162.7 306.8 1151.4 306.2 1146.5 305.3C1141.6 304.3 1142.7 304.9 1141.9 301.7C1141 298.4 1141.2 288.9 1141.4 285.7C1141.5 282.4 1142.9 282 1142.9 282L1141.9 279.5L1141.9 264.5Z"/>
<path class="n" stroke-width="2.91" d="M1141.9 279.5L1146.5 282.6L1197.1 285.7L1211.5 278.4L1211.5 261.9"/>
<path class="n" stroke-width="2.19" d="M1145.5 269.7L1198.1 273.3L1211.5 266" stroke-dasharray="8 5"/>
<path class="n" stroke-width="2.19" d="M1146.5 292.4L1197.1 295.5L1222.9 282.6" stroke-dasharray="8 5"/>
<path class="n" stroke-width="2.43" d="M1212.6 274.3L1219.8 272.8"/>
<path class="n" stroke-width="2.11" d="M1238.4 241.3C1237.2 243 1234.4 248.3 1231.1 251.6C1227.9 254.9 1220.8 259.3 1218.8 260.9" stroke-dasharray="5 5"/>
<path class="n" stroke-width="1.95" d="M1208.4 282.6L1222.9 281.5"/>
<ellipse class="n" stroke-width="2.75" cx="1206.9" cy="235.6" rx="10.8" ry="5.2"/>
<path class="n" stroke-width="2.11" d="M1200.2 236.6L1212.6 236.6" stroke-dasharray="4 2.5"/>
<ellipse class="n" stroke-width="2.75" cx="1194.8" cy="252.6" rx="10.3" ry="5.2"/>
<path class="n" stroke-width="2.11" d="M1188.8 253.7L1201.2 253.7" stroke-dasharray="4 2.5"/>
<ellipse class="o" stroke-width="2.91" cx="940.6" cy="144.9" rx="10.9" ry="10.9"/>
<path class="o" stroke-width="2.43" d="M950 139.6L956.2 138.7L956.2 152.1L950 150.5"/>
<path class="o" stroke-width="2.91" d="M957.8 133.4C958.7 130.4 960.8 128.8 962.4 128.1C964.1 127.3 969.8 126.7 971.8 127.1C973.7 127.6 978.1 128.7 978.9 131.8C979.8 134.9 979.8 145.3 978.9 153.6C978.1 162 973.2 193.3 971.8 203.5C970.4 213.7 967.9 232.9 967.1 240.9C966.3 248.9 964.9 265.5 964.6 272C964.3 278.6 966.7 292.2 964.6 297C962.5 301.7 948.8 319.8 946.8 312.5C944.9 305.3 947.2 249.2 947.8 234.6C948.3 220.1 950.7 197.4 951.5 187.9C952.3 178.4 953.9 160 954.6 153.6C955.4 147.3 956.8 136.4 957.8 133.4Z"/>
<path class="n" stroke-width="1.95" d="M964 133.4C963.4 142.5 961.5 170 960.2 187.9C958.9 205.8 957.1 221.7 956.2 240.9C955.3 260.1 954.9 292.8 954.6 303.2" stroke-dasharray="4 2.5"/>
<path class="n" stroke-width="1.95" d="M970.2 131.8C969.7 141.2 968.6 169.7 967.1 187.9C965.6 206.1 962.6 224.8 961.5 240.9C960.4 257 960.5 277.2 960.2 284.5" stroke-dasharray="4 2.5"/>
<ellipse class="o" stroke-width="2.43" cx="975.8" cy="145.8" rx="2.8" ry="8.7" transform="rotate(3 975.8 145.8)"/>
</g>

<!-- 25_p01b.svg -->
<g>
<path class="o" stroke-width="3.07" d="M947 371.2L947 391.3L954.7 398.3C954.7 398.3 954.2 482.6 954.7 496.6C955.2 510.6 956.4 502.1 958.6 503.6C960.7 505 971 507.4 971 507.4L1006.6 519.8L1005 521.7C1005 521.7 1004.6 536.4 1005 539.2C1005.4 542 1008.1 542.7 1008.1 542.7L1012.8 543L1032.9 536.5L1026.7 527.6L1026.7 371.2L947 371.2Z"/>
<path class="n" stroke-width="2.27" d="M952.4 374.3L952.4 392.9L960.1 399.4L960.1 496.6L963.2 501.2"/>
<path class="n" stroke-width="2.75" d="M963.2 484.2L1001.9 473.4"/>
<path class="n" stroke-width="2.43" d="M963.2 484.2L963.2 500L1012.8 518.3"/>
<path class="n" stroke-width="2.03" d="M965.5 488.1L1012.8 505.1" stroke-dasharray="4 2.5"/>
<path class="n" stroke-width="2.27" d="M1012.8 492L1012.8 519.8"/>
<path class="n" stroke-width="1.95" d="M1010.4 521.4L1010.4 541.5" stroke-dasharray="4 2.5"/>
<path class="n" stroke-width="2.59" d="M955.5 378.9C957.5 380.2 962.7 384.6 967.9 386.7C973 388.7 981.9 390.3 986.4 391.3C991 392.4 993.5 392.6 995 392.9"/>
<path class="n" stroke-width="2.59" d="M995 374.3L995 408.4L1006.6 411.4"/>
<path class="n" stroke-width="2.59" d="M1012.8 374.3L1012.8 424.6"/>
<path class="n" stroke-width="2.43" d="M984.9 379.7C985.4 379.5 987 378 988 378.2C989 378.3 990.6 380.1 991.1 380.5"/>
<ellipse class="o" stroke-width="2.75" cx="982.6" cy="401.4" rx="5.3" ry="7.1" transform="rotate(12 982.6 401.4)"/>
<path class="n" stroke-width="2.75" d="M1006.6 414.5C1004.3 414.8 997 415.4 992.6 416.1C988.3 416.7 983.3 417.3 980.3 418.4C977.2 419.5 974.9 421.2 974.4 422.6C973.9 424 975.1 426.4 977.2 426.9C979.2 427.4 984.9 425.9 986.4 425.7"/>
<path class="n" stroke-width="2.43" d="M979.5 421.5C980.1 421.3 982.2 420.2 983.4 420.4C984.5 420.6 985.9 422.2 986.4 422.6"/>
<ellipse class="n" stroke-width="2.59" cx="977.9" cy="440.9" rx="4" ry="3.1" transform="rotate(-15 977.9 440.9)"/>
<path class="n" stroke-width="2.43" d="M981.8 437.8C983.4 437.1 989.3 434.7 991.1 433.9C992.9 433.1 992.4 433.3 992.6 433.1"/>
<path class="n" stroke-width="2.59" d="M992.6 416.1L992.6 433.1L1006.6 433.1L1006.6 448.6L1017.4 453.6"/>
<path class="n" stroke-width="2.27" d="M997.3 416.9L997.3 431.6"/>
<path class="n" stroke-width="2.11" d="M1001.9 416.1L1002.7 445.5" stroke-dasharray="4 2.5"/>
<path class="o" stroke-width="2.91" d="M959.4 449.8C960.4 448.5 963.6 445.9 967.9 445.5C972.1 445.1 988 445.4 991.1 447.1C994.2 448.7 993.1 455.8 991.4 457.9C989.7 460 982 462.4 978.7 462.8C975.4 463.3 968.8 462.3 966.3 461.3C963.8 460.3 960.7 457.1 959.8 455.6C958.9 454 958.3 451.2 959.4 449.8Z"/>
<path class="n" stroke-width="2.03" d="M963.2 454.8L986.4 451.7" stroke-dasharray="4 2.5"/>
<path class="n" stroke-width="2.03" d="M972.5 455.6L972.5 461.8" stroke-dasharray="4 2.5"/>
<path class="n" stroke-width="2.59" d="M991.4 457.9L1001.9 457.9L1006.6 465.6L1015.9 465.6L1015.9 474.2"/>
<path class="n" stroke-width="2.59" d="M1001.9 473.4L1001.9 488.9L1012.8 492.3"/>
<path class="n" stroke-width="2.03" d="M1006.6 474.2L1007.3 487.3" stroke-dasharray="4 2.5"/>
<path class="n" stroke-width="1.95" d="M961.7 464.1L961.7 482.7" stroke-dasharray="4 2.5"/>
<path class="o" stroke-width="2.75" d="M1008.1 426.9L1012.8 424.6L1025.9 431.9L1025.9 451.7L1017.4 453.6L1008.1 448.6Z"/>
<path class="n" stroke-width="2.03" d="M1012.8 426.9L1012.8 448.6" stroke-dasharray="4 2.5"/>
<path class="n" stroke-width="2.03" d="M1017.4 430L1017.4 452.5" stroke-dasharray="4 2.5"/>
<ellipse class="n" stroke-width="2.27" cx="1002.7" cy="433.1" rx="2.2" ry="2.8"/>
<ellipse class="n" stroke-width="2.27" cx="1004.3" cy="422.3" rx="2.2" ry="2.2"/>
<path class="o" stroke-width="3.23" d="M1015.1 374.3L1015.1 425.7L1025.9 431.9C1025.9 431.9 1025.7 511.3 1025.9 524.5C1026.2 537.6 1027 529.2 1027.9 530.4C1028.9 531.5 1032.9 533.4 1032.9 533.4C1032.9 533.4 1076.3 522.6 1084 520.3C1091.7 518 1089.2 517.6 1090.5 516C1091.7 514.3 1092.9 522.1 1093.3 508.2C1093.6 494.3 1093.3 411.4 1093.3 411.4L1101.8 403.7L1101.8 374.3L1015.1 374.3Z"/>
<path class="n" stroke-width="2.03" d="M1098.2 377.4L1098.2 402.2L1091 409.1"/>
<path class="n" stroke-width="2.59" d="M1093.3 447.1L1098.7 449.4L1099.5 467.2L1093.6 471.8"/>
<path class="n" stroke-width="1.95" d="M1023.6 434.7L1023.6 524.5L1031.3 530.7" stroke-dasharray="4 2.5"/>
<ellipse class="o" stroke-width="2.91" cx="1041.4" cy="394.4" rx="13.9" ry="13.9"/>
<ellipse class="n" stroke-width="2.19" cx="1043.7" cy="395.2" rx="7.7" ry="8.5" stroke-dasharray="2 2"/>
<ellipse class="n" stroke-width="2.03" cx="1043.7" cy="395.2" rx="5.9" ry="6.5" stroke-dasharray="2 2.5"/>
<path class="n" stroke-width="2.91" d="M1040.6 389.8L1047.6 399.8"/>
<path class="n" stroke-width="2.91" d="M1048.4 390.5L1039.9 400.6"/>
<path class="n" stroke-width="2.43" d="M1038.3 395.2L1049.9 394.4"/>
<ellipse class="o" stroke-width="2.91" cx="1083.2" cy="388.2" rx="13.2" ry="13.2"/>
<ellipse class="n" stroke-width="2.19" cx="1085.5" cy="389" rx="7.7" ry="8.5" stroke-dasharray="2 2"/>
<ellipse class="n" stroke-width="2.03" cx="1085.5" cy="389" rx="5.9" ry="6.5" stroke-dasharray="2 2.5"/>
<path class="n" stroke-width="2.91" d="M1082.4 383.6L1089.4 393.6"/>
<path class="n" stroke-width="2.91" d="M1090.2 384.4L1081.7 394.4"/>
<path class="n" stroke-width="2.43" d="M1080.1 389L1091.7 388.2"/>
<path class="n" stroke-width="2.91" d="M1054.6 396.7C1055.9 396.4 1060 394 1062.3 394.7C1064.6 395.5 1068.1 398.9 1068.5 401.4C1068.9 403.9 1066.2 408.7 1064.6 409.9C1063 411.1 1059.9 408.9 1058.9 408.7"/>
<path class="n" stroke-width="2.75" d="M1055.3 398.3L1046.8 410.7"/>
<path class="n" stroke-width="2.27" d="M1060 399.8L1051.5 411.4"/>
<path class="n" stroke-width="2.91" d="M1045.3 416.9C1045.2 418.3 1044 423.2 1044.5 425.4C1045 427.6 1046.7 428.9 1048.4 430C1050.1 431.1 1053.2 433.2 1054.6 431.9C1055.9 430.6 1056.1 423.9 1056.4 422.3"/>
<path class="n" stroke-width="2.43" d="M1048.4 417.6L1048.4 426.9"/>
<path class="n" stroke-width="2.43" d="M1046.8 410.7L1045.3 417.6"/>
<ellipse class="n" stroke-width="2.59" cx="1070.8" cy="421.5" rx="3.7" ry="4.2"/>
<path class="n" stroke-width="2.11" d="M1071.6 419.2C1071.9 419.6 1073.4 420.7 1073.5 421.5C1073.5 422.3 1072.2 423.7 1071.9 424.1"/>
<path class="n" stroke-width="2.91" d="M1079.3 441.2L1072.4 439.3L1040.6 449.4L1055.3 457.9L1060 450.5L1063.9 464.1L1079.3 455.1"/>
<path class="n" stroke-width="2.59" d="M1060 450.5L1074.7 442.4"/>
<path class="n" stroke-width="2.91" d="M1040.6 465.6L1055.3 473.4L1060 466.4L1063.9 478.8L1079.3 471.5"/>
<path class="n" stroke-width="2.75" d="M1040.6 465.6L1041.4 462.2L1063.9 457.9"/>
<path class="n" stroke-width="2.43" d="M1060 466.4L1076.2 459.4"/>
<path class="n" stroke-width="2.75" d="M1041.4 483L1040.6 479.6L1055.3 473.4"/>
<path class="n" stroke-width="2.75" d="M1041.4 483L1063.9 478.8"/>
<path class="n" stroke-width="2.11" d="M1065.4 449.4L1079.3 446.3" stroke-dasharray="4 2.5"/>
<path class="n" stroke-width="2.11" d="M1066.2 465.6L1079.3 463.3" stroke-dasharray="4 2.5"/>
<path class="n" stroke-width="2.91" d="M1053.8 503.1C1053.8 503.1 1075.8 497.3 1078.6 496.9C1081.4 496.5 1081.4 498 1081.7 499.4C1082 500.7 1081.7 510.5 1081.7 510.5L1055.3 516.7C1055.3 516.7 1053.2 515.3 1053 513.9C1052.9 512.6 1053.8 503.1 1053.8 503.1Z"/>
<path class="n" stroke-width="2.11" d="M1062.3 501.2L1062.3 499.4"/>
<path class="n" stroke-width="2.11" d="M1068.5 499.7L1068.5 497.8"/>
<path class="n" stroke-width="2.11" d="M1074.7 498.1L1074.7 496.3"/>
<path class="o" stroke-width="0" d="M890.9 339.7C891.7 337.3 893 333.5 898.1 331.9C903.3 330.3 920.1 330.2 925.3 328.8C930.5 327.4 928.6 324.6 932.9 322.5C937.2 320.3 943.2 315.9 954.3 314.3C965.4 312.7 990.8 312.3 1006.8 311.6C1022.8 310.9 1046.5 310.9 1061.2 309.8C1075.8 308.7 1097.5 303.5 1104.6 304.3C1111.8 305.2 1106.4 312.2 1108.6 315.2C1110.8 318.2 1117 321 1119.1 324.3C1121.3 327.5 1123.9 331.2 1123.1 337C1122.3 342.7 1116.7 356.9 1113.7 362.3C1110.7 367.8 1115.3 371 1102.8 373.2C1090.3 375.4 1052.6 376.9 1030.4 377.2C1008.1 377.4 954.3 375 954.3 375C954.3 375 938.2 371.5 934.3 369.6C930.5 367.7 934.1 364.2 928.9 362.3C923.8 360.4 905.4 359.1 899.9 356.9C894.5 354.7 894 350.4 892.7 347.8C891.3 345.2 890.1 342.1 890.9 339.7Z" stroke="none"/>
<path class="n" stroke-width="3.23" d="M955.2 313.8C951.8 315.1 937.4 320.2 932.9 322.5C928.4 324.7 930.5 327.4 925.3 328.8C920.1 330.2 903.3 330.3 898.1 331.9C893 333.5 891.7 337.3 890.9 339.7C890.1 342.1 891.3 345.2 892.7 347.8C894 350.4 894.5 354.7 899.9 356.9C905.4 359.1 923.8 360.4 928.9 362.3C934.1 364.2 930.5 367.7 934.3 369.6C938.2 371.5 954.3 375 954.3 375C954.3 375 1008.1 377.4 1030.4 377.2C1052.6 376.9 1090.3 375.4 1102.8 373.2C1115.3 371 1110.7 367.8 1113.7 362.3C1116.7 356.9 1122.3 342.7 1123.1 337C1123.9 331.2 1121.3 327.5 1119.1 324.3C1117 321 1110.7 317 1108.6 315.2C1106.6 313.5 1106 312.9 1105.5 312.5"/>
<path class="n" stroke-width="2.11" d="M895.4 348.7C896.6 349.6 896.9 352.5 902.6 354.2C908.4 355.8 924.2 356.7 929.8 358.7C935.4 360.7 932.1 363.9 936.2 365.9C940.2 368 951.3 370.2 954.3 371" stroke-dasharray="4 2.5"/>
<path class="n" stroke-width="2.11" d="M898.1 335.1C898.4 336.7 897.5 341.9 899.9 344.2C902.3 346.5 907.5 348.1 912.6 348.7C917.7 349.3 927.7 348 930.7 347.8" stroke-dasharray="4 2.5"/>
<ellipse class="n" stroke-width="2.75" cx="916.2" cy="335.1" rx="12.7" ry="4"/>
<ellipse class="n" stroke-width="2.59" cx="917.1" cy="335.1" rx="7.2" ry="1.8"/>
<path class="n" stroke-width="2.11" d="M927.1 329.7C928.3 329.1 929.8 327.3 934.3 326.1C938.9 324.9 951 323.1 954.3 322.5" stroke-dasharray="4 2.5"/>
<path class="n" stroke-width="2.11" d="M934.3 337C935.6 338.2 938.3 342.7 941.6 344.2C944.9 345.7 952.2 345.7 954.3 346" stroke-dasharray="4 2.5"/>
<path class="n" stroke-width="2.43" d="M890.9 339.7L893.6 340.6L894.5 347.8"/>
<path class="n" stroke-width="3.07" d="M1063 293.5C1064.5 293 1066.3 291 1072 290.8C1077.8 290.5 1091.1 290.4 1097.4 292C1103.7 293.7 1107.7 297.8 1110.1 300.7C1112.4 303.7 1112.4 307.6 1111.5 309.8C1110.6 312 1105.8 313.1 1104.6 313.8"/>
<path class="n" stroke-width="2.43" d="M1108.6 302.5L1108.6 311.6"/>
<path class="o" stroke-width="0" d="M1070.2 298.9L1070.2 325.2C1070.2 325.2 1080.3 329.7 1085.3 329.7C1090.2 329.7 1100.1 325.2 1100.1 325.2L1100.1 298.9L1070.2 298.9Z" stroke="none"/>
<path class="n" stroke-width="2.91" d="M1070.2 298.9L1070.2 325.2"/>
<path class="n" stroke-width="2.91" d="M1100.1 298.9L1100.1 325.2"/>
<path class="n" stroke-width="2.75" d="M1070.2 325.2C1072.7 325.9 1080.3 329.7 1085.3 329.7C1090.2 329.7 1097.6 325.9 1100.1 325.2"/>
<path class="n" stroke-width="2.11" d="M1072 322.5C1074.2 323.1 1080.9 326.1 1085.3 326.1C1089.6 326.1 1096.1 323.1 1098.3 322.5" stroke-dasharray="4 2.5"/>
<ellipse class="o" stroke-width="2.91" cx="1085.3" cy="298.9" rx="15" ry="4.5"/>
<ellipse class="n" stroke-width="2.43" cx="1085.3" cy="298.9" rx="8.2" ry="2.2"/>
<path class="n" stroke-width="2.11" d="M1053.9 317L1070.2 311.6"/>
<ellipse class="o" stroke-width="2.91" cx="1086.5" cy="351.4" rx="20.3" ry="7.2"/>
<ellipse class="n" stroke-width="2.75" cx="1086.5" cy="350.2" rx="10" ry="3.3"/>
<path class="n" stroke-width="2.75" d="M1076.6 359.6L1076.6 369.6L1093.8 369.9L1093.8 360.9"/>
<path class="n" stroke-width="2.27" d="M1085.6 335.1L1085.6 344.2"/>
<path class="n" stroke-width="3.07" d="M1048.5 329.7L1075.7 344.2"/>
<path class="n" stroke-width="2.27" d="M1050.3 335.5L1068.4 348.2"/>
<path class="n" stroke-width="2.11" d="M1066.6 351.4C1067.2 353.3 1068.1 359.6 1070.2 362.3C1072.3 365 1077.8 366.8 1079.3 367.8" stroke-dasharray="4 2.5"/>
<path class="n" stroke-width="2.11" d="M1034 370.5L1061.2 367.8L1102.8 368.7" stroke-dasharray="4 2.5"/>
<path class="n" stroke-width="2.11" d="M1106.4 351.4C1107.4 350.2 1110.4 347.5 1111.9 344.2C1113.4 340.9 1114.9 333.6 1115.5 331.5" stroke-dasharray="4 2.5"/>
<path class="n" stroke-width="2.03" d="M1086.5 332.4L1130 345.1" stroke-dasharray="9 3 2 3"/>
<path class="n" stroke-width="2.75" d="M1053.9 268.1L1053.9 287.1"/>
<path class="n" stroke-width="2.75" d="M1063 268.1L1063 285.3"/>
<path class="n" stroke-width="2.75" d="M1051.2 286.2C1052.6 287.2 1056.5 291.7 1059.3 292C1062.2 292.4 1067.2 289.8 1068.4 288.4C1069.6 287 1066.9 284.3 1066.6 283.5"/>
<path class="o" stroke-width="3.23" d="M957.9 281.7C957.9 281.7 959.3 278.9 961 277.2C962.7 275.5 966.9 270.4 970.6 269C974.3 267.7 985.3 267 988.7 267.2C992.1 267.4 995 269 996.3 270.3C997.7 271.6 998.8 277.2 998.8 277.2L1014.1 279L1019.5 274.5C1019.5 274.5 1031.2 273.2 1034 273.6C1036.8 273.9 1039.4 275.7 1040.3 277.2C1041.3 278.6 1041.2 284.4 1041.2 284.4L1041.2 327.9L1030.4 327.9L1030.4 369.6L957.9 366.3L957.9 281.7Z"/>
<path class="n" stroke-width="2.19" d="M959.7 303.4L1030.4 306.5" stroke-dasharray="4 2.5"/>
<path class="n" stroke-width="2.27" d="M976 282.6L976 302.9"/>
<path class="n" stroke-width="2.11" d="M960.6 277.2L960.6 301.6"/>
<path class="n" stroke-width="2.19" d="M976 282.6L1010.4 283" stroke-dasharray="4 2.5"/>
<path class="n" stroke-width="2.11" d="M1010.4 283L1019.5 299.8" stroke-dasharray="4 2.5"/>
<path class="n" stroke-width="2.11" d="M1014.1 279L1010.4 283" stroke-dasharray="4 2.5"/>
<path class="n" stroke-width="2.19" d="M1024.9 275.4L1030.4 302.5L1030.4 327.9" stroke-dasharray="4 2.5"/>
<ellipse class="n" stroke-width="2.75" cx="967" cy="289.9" rx="3.3" ry="3.6"/>
<path class="n" stroke-width="2.11" d="M1034 329.7L1034 368.7"/>
<path class="n" stroke-width="2.11" d="M1044.9 329.7L1042.1 369.6"/>
<path class="n" stroke-width="2.43" d="M1030.4 369.6L1048.5 368.7"/>
<path class="o" stroke-width="3.07" d="M1037.2 284.4L1051.2 283.5L1051.7 322.5L1045.8 328.3L1037.2 326.1Z"/>
<path class="n" stroke-width="2.59" d="M1040.3 288L1047.6 287.1L1047.6 319.7L1040.3 321Z"/>
<path class="n" stroke-width="3.23" d="M1043 289.9L1043 318.8"/>
<path class="n" stroke-width="2.27" d="M1045.2 290.8L1045.2 317.9"/>
<path class="n" stroke-width="2.43" d="M1045.8 313.4C1046.7 314 1049.8 315.5 1051.2 317C1052.6 318.5 1053.5 321.6 1053.9 322.5"/>
</g>

<!-- 26_bolts.svg -->
<g>
<path class="o" stroke-width="2.91" d="M902.8 121.3L902.8 177.3L905.8 181.3L917.6 181.3L920.6 177.3L920.6 121.3"/>
<path class="n" stroke-width="2.11" d="M902.8 138L909.9 139.6"/>
<path class="n" stroke-width="2.11" d="M912.6 138.6L920.6 140.2"/>
<path class="n" stroke-width="2.11" d="M902.8 142.2L909.9 143.8"/>
<path class="n" stroke-width="2.11" d="M912.6 142.8L920.6 144.4"/>
<path class="n" stroke-width="2.11" d="M902.8 146.4L909.9 148"/>
<path class="n" stroke-width="2.11" d="M912.6 147L920.6 148.6"/>
<path class="n" stroke-width="2.11" d="M902.8 150.6L909.9 152.2"/>
<path class="n" stroke-width="2.11" d="M912.6 151.2L920.6 152.8"/>
<path class="n" stroke-width="2.11" d="M902.8 154.8L909.9 156.4"/>
<path class="n" stroke-width="2.11" d="M912.6 155.4L920.6 157"/>
<path class="n" stroke-width="2.11" d="M902.8 159L909.9 160.6"/>
<path class="n" stroke-width="2.11" d="M912.6 159.6L920.6 161.2"/>
<path class="n" stroke-width="2.11" d="M902.8 163.2L909.9 164.8"/>
<path class="n" stroke-width="2.11" d="M912.6 163.8L920.6 165.4"/>
<path class="n" stroke-width="2.11" d="M902.8 167.4L909.9 169"/>
<path class="n" stroke-width="2.11" d="M912.6 168L920.6 169.6"/>
<path class="n" stroke-width="2.11" d="M902.8 171.6L909.9 173.2"/>
<path class="n" stroke-width="2.11" d="M912.6 172.2L920.6 173.8"/>
<path class="n" stroke-width="2.11" d="M902.8 175.8L909.9 177.4"/>
<path class="n" stroke-width="2.11" d="M912.6 176.4L920.6 178"/>
<ellipse class="o" stroke-width="2.91" cx="911.7" cy="121.3" rx="20.4" ry="6.5"/>
<path class="n" stroke-width="1.95" d="M896.4 123.3C899 123.8 906.6 126.2 911.7 126.2C916.8 126.2 924.5 123.8 927 123.3"/>
<path class="o" stroke-width="2.91" d="M895.2 119.3C895.2 119.3 894.5 109.5 895.2 107.7C895.9 105.9 901.8 101.7 901.8 101.7L920 101.7C920 101.7 927.4 105.9 928.2 107.7C929 109.5 928.2 119.3 928.2 119.3"/>
<path class="n" stroke-width="2.27" d="M895.2 118.3C898 119.1 906.2 123.2 911.7 123.2C917.2 123.2 925.5 119.1 928.2 118.3"/>
<ellipse class="n" stroke-width="2.43" cx="911.7" cy="105.7" rx="9.1" ry="2.8"/>
<path class="n" stroke-width="2.27" d="M902.6 106.7L903.5 111.7L919.1 111.7L920.8 106.7"/>
<path class="n" stroke-width="2.91" d="M904.3 110.7L918.3 110.7"/>
<path class="o" stroke-width="2.91" d="M1082.9 172.3L1082.9 217.5L1085.9 221.5L1096.1 221.5L1099.1 217.5L1099.1 172.3"/>
<path class="n" stroke-width="2.11" d="M1082.9 188L1089.4 189.6"/>
<path class="n" stroke-width="2.11" d="M1091.8 188.6L1099.1 190.2"/>
<path class="n" stroke-width="2.11" d="M1082.9 192.2L1089.4 193.8"/>
<path class="n" stroke-width="2.11" d="M1091.8 192.8L1099.1 194.4"/>
<path class="n" stroke-width="2.11" d="M1082.9 196.4L1089.4 198"/>
<path class="n" stroke-width="2.11" d="M1091.8 197L1099.1 198.6"/>
<path class="n" stroke-width="2.11" d="M1082.9 200.6L1089.4 202.2"/>
<path class="n" stroke-width="2.11" d="M1091.8 201.2L1099.1 202.8"/>
<path class="n" stroke-width="2.11" d="M1082.9 204.8L1089.4 206.4"/>
<path class="n" stroke-width="2.11" d="M1091.8 205.4L1099.1 207"/>
<path class="n" stroke-width="2.11" d="M1082.9 209L1089.4 210.6"/>
<path class="n" stroke-width="2.11" d="M1091.8 209.6L1099.1 211.2"/>
<path class="n" stroke-width="2.11" d="M1082.9 213.2L1089.4 214.8"/>
<path class="n" stroke-width="2.11" d="M1091.8 213.8L1099.1 215.4"/>
<path class="n" stroke-width="2.11" d="M1082.9 217.4L1089.4 219"/>
<path class="n" stroke-width="2.11" d="M1091.8 218L1099.1 219.6"/>
<ellipse class="o" stroke-width="2.91" cx="1091" cy="172.3" rx="19.3" ry="6"/>
<path class="n" stroke-width="1.95" d="M1076.5 174.3C1078.9 174.7 1086.2 176.8 1091 176.8C1095.8 176.8 1103.1 174.7 1105.5 174.3"/>
<path class="o" stroke-width="2.91" d="M1075.4 170.3C1075.4 170.3 1074.8 159.8 1075.4 158C1076 156.2 1081.6 152 1081.6 152L1098.8 152C1098.8 152 1105.8 156.2 1106.6 158C1107.4 159.8 1106.6 170.3 1106.6 170.3"/>
<path class="n" stroke-width="2.27" d="M1075.4 169.3C1078 170.1 1085.8 174.1 1091 174.1C1096.2 174.1 1104 170.1 1106.6 169.3"/>
<ellipse class="n" stroke-width="2.43" cx="1091" cy="156" rx="8.6" ry="2.8"/>
<path class="n" stroke-width="2.27" d="M1082.4 157L1083.2 162L1098 162L1099.6 157"/>
<path class="n" stroke-width="2.91" d="M1084 161L1097.2 161"/>
<path class="o" stroke-width="2.91" d="M1256.1 301.9L1256.1 369.9L1259.1 373.9L1269.7 373.9L1272.7 369.9L1272.7 301.9"/>
<path class="n" stroke-width="2.11" d="M1256.1 318L1262.7 319.6"/>
<path class="n" stroke-width="2.11" d="M1265.2 318.6L1272.7 320.2"/>
<path class="n" stroke-width="2.11" d="M1256.1 322.2L1262.7 323.8"/>
<path class="n" stroke-width="2.11" d="M1265.2 322.8L1272.7 324.4"/>
<path class="n" stroke-width="2.11" d="M1256.1 326.4L1262.7 328"/>
<path class="n" stroke-width="2.11" d="M1265.2 327L1272.7 328.6"/>
<path class="n" stroke-width="2.11" d="M1256.1 330.6L1262.7 332.2"/>
<path class="n" stroke-width="2.11" d="M1265.2 331.2L1272.7 332.8"/>
<path class="n" stroke-width="2.11" d="M1256.1 334.8L1262.7 336.4"/>
<path class="n" stroke-width="2.11" d="M1265.2 335.4L1272.7 337"/>
<path class="n" stroke-width="2.11" d="M1256.1 339L1262.7 340.6"/>
<path class="n" stroke-width="2.11" d="M1265.2 339.6L1272.7 341.2"/>
<path class="n" stroke-width="2.11" d="M1256.1 343.2L1262.7 344.8"/>
<path class="n" stroke-width="2.11" d="M1265.2 343.8L1272.7 345.4"/>
<path class="n" stroke-width="2.11" d="M1256.1 347.4L1262.7 349"/>
<path class="n" stroke-width="2.11" d="M1265.2 348L1272.7 349.6"/>
<path class="n" stroke-width="2.11" d="M1256.1 351.6L1262.7 353.2"/>
<path class="n" stroke-width="2.11" d="M1265.2 352.2L1272.7 353.8"/>
<path class="n" stroke-width="2.11" d="M1256.1 355.8L1262.7 357.4"/>
<path class="n" stroke-width="2.11" d="M1265.2 356.4L1272.7 358"/>
<path class="n" stroke-width="2.11" d="M1256.1 360L1262.7 361.6"/>
<path class="n" stroke-width="2.11" d="M1265.2 360.6L1272.7 362.2"/>
<path class="n" stroke-width="2.11" d="M1256.1 364.2L1262.7 365.8"/>
<path class="n" stroke-width="2.11" d="M1265.2 364.8L1272.7 366.4"/>
<path class="n" stroke-width="2.11" d="M1256.1 368.4L1262.7 370"/>
<path class="n" stroke-width="2.11" d="M1265.2 369L1272.7 370.6"/>
<ellipse class="o" stroke-width="2.91" cx="1264.4" cy="301.9" rx="20.6" ry="6"/>
<path class="n" stroke-width="1.95" d="M1249 303.9C1251.5 304.3 1259.2 306.4 1264.4 306.4C1269.6 306.4 1277.3 304.3 1279.9 303.9"/>
<path class="o" stroke-width="2.91" d="M1247.7 299.9C1247.7 299.9 1247 290.1 1247.7 288.3C1248.4 286.5 1254.4 282.3 1254.4 282.3L1272.8 282.3C1272.8 282.3 1280.3 286.5 1281.1 288.3C1281.9 290.1 1281.1 299.9 1281.1 299.9"/>
<path class="n" stroke-width="2.27" d="M1247.7 298.9C1250.5 299.7 1258.8 303.7 1264.4 303.7C1270 303.7 1278.3 299.7 1281.1 298.9"/>
<ellipse class="n" stroke-width="2.43" cx="1264.4" cy="286.3" rx="9.2" ry="2.8"/>
<path class="n" stroke-width="2.27" d="M1255.2 287.3L1256.1 292.3L1271.9 292.3L1273.6 287.3"/>
<path class="n" stroke-width="2.91" d="M1256.9 291.3L1271.1 291.3"/>
</g>

<!-- 26_p04.svg -->
<g>
<path class="n" stroke-width="1.5" stroke-dasharray="12 3 2 3" d="M1090 333L1263.6 385"/>
<path class="o" stroke-width="2.75" d="M1268.8 436.5L1277 437.1L1284.2 449.9L1284.2 468.5L1276 474.7L1268.8 474.7Z"/>
<path class="n" stroke-width="2.27" d="M1277 437.1L1276 474.7"/>
<ellipse class="o" stroke-width="2.91" cx="1259.5" cy="458.1" rx="12.8" ry="26.4" transform="rotate(-8 1259.5 458.1)"/>
<ellipse class="n" stroke-width="2.11" cx="1256.4" cy="458.6" rx="10.7" ry="23.7" transform="rotate(-8 1256.4 458.6)"/>
<path class="o" stroke-width="2.91" d="M1211 449.5C1214.3 448.7 1239.9 442 1244 441.6C1248.1 441.3 1250.9 444.1 1252.2 445.8C1253.6 447.4 1257 455.3 1257.4 458.1C1257.8 461 1256.9 472.5 1256.4 474.7C1255.9 476.8 1256.6 478.1 1252.2 479.2C1247.9 480.3 1216.9 484.8 1213 485.4"/>
<path class="n" stroke-width="2.11" d="M1246 443.7C1246.9 446.1 1250.7 452.3 1251.2 458.1C1251.7 464 1249.5 475.3 1249.1 478.8"/>
<path class="n" stroke-width="1.95" d="M1229.5 445.8C1230.3 448.9 1233.7 458.3 1234.1 464.3C1234.4 470.4 1232 479 1231.6 481.9" stroke-dasharray="4 2.5"/>
<path class="n" stroke-width="1.95" d="M1224.4 446.8C1225.2 449.7 1228.8 458.3 1229.1 464.3C1229.5 470.4 1226.9 479.8 1226.4 482.9"/>
<ellipse class="o" stroke-width="2.91" cx="1213" cy="467.4" rx="11.4" ry="18.2" transform="rotate(-5 1213 467.4)"/>
<ellipse class="n" stroke-width="2.27" cx="1212.6" cy="467.4" rx="7.8" ry="13.6" transform="rotate(-5 1212.6 467.4)"/>
<ellipse class="n" stroke-width="1.95" cx="1212" cy="467.4" rx="5.2" ry="9.3" transform="rotate(-5 1212 467.4)"/>
</g>

<!-- 27_p10.svg -->
<g>
<path class="o" stroke-width="3.07" d="M513.5 602.0L840.7 749.0L830.0 778.5L505.9 632.4A15.7 15.7 0 0 1 513.5 602.0Z"/>
<ellipse class="o" stroke-width="3.07" cx="836.1" cy="763.6" rx="11.6" ry="15.8" transform="rotate(25 836.1 763.6)"/>
<path class="n" stroke-width="1.95" d="M827 752.6C826.3 754.4 823.3 759.5 823.3 763.3C823.3 767.1 826.3 773.4 827 775.4"/>
<ellipse class="n" stroke-width="2.59" cx="603.3" cy="667.4" rx="3.7" ry="5.8" transform="rotate(-15 603.3 667.4)"/>
<path class="n" stroke-width="1.95" d="M604.2 664.3C603.8 665 601.7 666.7 601.7 668C601.7 669.3 603.8 671.3 604.2 672"/>
<ellipse class="n" stroke-width="2.59" cx="801.1" cy="757.2" rx="3.7" ry="5.8" transform="rotate(-15 801.1 757.2)"/>
<path class="n" stroke-width="1.95" d="M802 754.1C801.6 754.7 799.6 756.5 799.6 757.8C799.6 759.1 801.6 761.1 802 761.7"/>
<path class="o" stroke-width="2.75" d="M710.7 770.3C715 768.6 749.2 761.4 753.9 760.8C758.7 760.3 757.8 763.8 758.2 764.8C758.5 765.8 758 770 757.6 770.9C757.1 771.7 758.2 771.9 753.9 773C749.7 774.1 719.3 781.1 715 781.5C710.6 782 711.1 778.7 710.7 777.6C710.3 776.4 706.4 771.9 710.7 770.3Z"/>
<path class="n" stroke-width="2.11" d="M715 770.9L715 780.6"/>
<path class="n" stroke-width="1.95" d="M715.9 775.4L755.4 767.2" stroke-dasharray="4 2.5"/>
<path class="n" stroke-width="2.27" d="M710.7 773.3L715 775.4"/>
<path class="o" stroke-width="3.07" d="M882.7 523.0L1173.2 655.2L1160.8 686.1L870.3 553.3A16.4 16.4 0 0 1 882.7 523.0Z"/>
<ellipse class="o" stroke-width="3.07" cx="1167.7" cy="670.6" rx="11.6" ry="16" transform="rotate(25 1167.7 670.6)"/>
<path class="n" stroke-width="1.95" d="M1158.9 658.5C1158.1 660.5 1154.6 666.3 1154.5 670.4C1154.3 674.4 1157.4 680.7 1158 682.8"/>
</g>

<!-- 28_p09.svg -->
<g>
<path class="o" stroke-width="3.07" d="M231.9 775.5C229.4 774.3 205.5 762.1 202.5 761.3C199.4 760.5 196.2 764.9 195.4 765.9C194.6 766.9 192.9 772.5 192.8 773.5C192.8 774.5 192.1 776.4 194.9 778C197.6 779.7 223.2 791.7 225.8 793"/>
<path class="n" stroke-width="2.19" d="M200.4 762.8L197.6 774.8"/>
<path class="n" stroke-width="2.19" d="M203.2 764.1L200.3 776.1"/>
<path class="n" stroke-width="2.19" d="M205.9 765.5L203.1 777.4"/>
<path class="n" stroke-width="2.19" d="M208.7 766.8L205.8 778.8"/>
<path class="n" stroke-width="2.19" d="M211.4 768.1L208.6 780.1"/>
<path class="n" stroke-width="2.19" d="M214.1 769.4L211.3 781.4"/>
<path class="n" stroke-width="2.19" d="M216.9 770.7L214 782.7"/>
<path class="n" stroke-width="2.19" d="M219.6 772.1L216.8 784"/>
<path class="n" stroke-width="2.19" d="M222.3 773.4L219.5 785.3"/>
<path class="n" stroke-width="2.19" d="M225.1 774.7L222.2 786.7"/>
<path class="n" stroke-width="2.19" d="M227.8 776L225 788"/>
<path class="o" stroke-width="3.07" d="M232.1 775C231.4 776.4 228.8 780.7 227.8 783.6C226.8 786.6 226.1 789.9 226 792.8C225.9 795.6 226.2 798.2 227.3 800.9C228.5 803.6 230.6 807.4 232.9 809C235.2 810.5 238.6 810 241 810.2C243.4 810.4 246.1 810 247.1 810"/>
<path class="o" stroke-width="3.07" d="M232.1 775L234.9 772.5L241 769.9L250.1 770.2L258.3 777.5L264.9 782.6L266.6 788.7L266 799L254.2 811.6L247.1 810L241 807L232.9 800.9L230.9 788.7Z"/>
<path class="n" stroke-width="2.43" d="M243 787.7L251.2 781.6L261.3 782.6L266 789.7"/>
<path class="n" stroke-width="2.43" d="M243 787.7L241 800.9L245.6 807.2L254.2 811.4"/>
<path class="n" stroke-width="2.27" d="M234.9 784.6L243 787.7"/>
<path class="n" stroke-width="2.11" d="M234.9 784.6L243 775.5L251.2 781.6" stroke-dasharray="4 2.5"/>
<path class="n" stroke-width="2.11" d="M243 775.5L250.1 770.4"/>
<ellipse class="o" stroke-width="3.23" cx="254.2" cy="795.3" rx="9.6" ry="10.1"/>
<path class="n" stroke-width="2.11" d="M230.4 787.7C230.2 788.9 229.1 791.9 229.3 794.8C229.6 797.7 231.5 803.2 231.9 804.9"/>
</g>

<!-- 29_p12.svg -->
<g>
<path class="o" stroke-width="3.23" d="M869 784.8C870.8 779.2 875.4 776.4 879.5 774.4C883.5 772.4 886.4 771.6 893.4 772.7C900.4 773.9 913.9 778.4 921.2 781.3C928.6 784.3 929.4 785.8 937.5 790.6C945.6 795.5 959.2 803.8 970 810.4C980.8 816.9 992.4 823.9 1002.5 830.1C1012.5 836.3 1023.4 841.9 1030.3 847.5C1037.3 853.1 1040.4 857.6 1044.3 863.7C1048.1 869.9 1051 878.1 1053.6 884.6C1056.1 891.2 1060.9 897.5 1059.4 903.2C1057.8 908.9 1048.5 917.4 1044.3 919C1040 920.5 1036.9 916.7 1033.8 912.5C1030.7 908.3 1027.8 899.3 1025.7 893.9C1023.6 888.5 1021.4 883.5 1021.1 880C1020.7 876.5 1024.9 876.1 1023.4 873C1021.8 869.9 1016.8 864.7 1011.8 861.4C1006.7 858.1 1000.2 854.8 993.2 853.3C986.2 851.7 977 851 970 852.1C963 853.3 958.4 856.8 951.4 860.3C944.5 863.7 935.2 868.6 928.2 873C921.2 877.5 914.5 881.2 909.6 887C904.8 892.8 902.3 900.5 899.2 907.8C896.1 915.2 892.6 923.7 891.1 931.1C889.5 938.4 889.1 946.5 889.9 951.9C890.7 957.4 892.8 957.4 895.7 963.6C898.6 969.7 906.2 983.5 907.3 989.1C908.5 994.7 905.6 995.1 902.7 997.2C899.8 999.3 894 1002.4 889.9 1001.9C885.8 1001.3 882 999.7 878.3 993.7C874.6 987.7 870.6 974.8 867.9 965.9C865.1 957 862.6 948.5 862.1 940.3C861.5 932.2 862.8 925.6 864.4 917.1C865.9 908.6 869.6 901.7 871.3 889.3C873.1 876.9 874 854.8 874.8 842.9C875.6 830.9 876.9 823.1 876 817.3C875 811.5 870.2 813.4 869 808C867.9 802.6 867.3 790.4 869 784.8Z"/>
<ellipse class="o" stroke-width="2.91" cx="918.9" cy="810.4" rx="12.8" ry="14.4" transform="rotate(-10 918.9 810.4)"/>
<path class="n" stroke-width="2.59" d="M922.4 802.2C923.1 802.8 926 804.3 926.4 805.7C926.7 807.1 925 810 924.7 810.8"/>
<path class="n" stroke-width="2.11" d="M879.5 779L916.6 787.1" stroke-dasharray="4 2.5"/>
<path class="n" stroke-width="2.27" d="M874.8 788.3L895.7 794.1L894.5 799.9L873.7 794.1"/>
<path class="n" stroke-width="2.43" d="M880.6 781.3L909.6 788.3"/>
<path class="n" stroke-width="2.59" d="M888.7 809.2C889.3 810 892.4 812.3 892.2 813.8C892 815.4 888.4 817.7 887.6 818.5"/>
<path class="n" stroke-width="2.11" d="M896.9 803.4C896.7 810 895.9 828.5 895.7 842.9C895.5 857.2 897.3 875.3 895.7 889.3C894.2 903.2 889.9 916.4 886.4 926.4C882.9 936.5 876.4 940.3 874.8 949.6C873.3 958.9 876.8 976.7 877.1 982.1" stroke-dasharray="4 2.5"/>
<path class="n" stroke-width="2.59" d="M902.2 826.6C902 832.4 901 850.2 900.8 861.4C900.6 872.6 900.8 888.5 900.8 893.9"/>
<path class="n" stroke-width="1.95" d="M886.4 931.1C885.5 934.9 880.6 944.6 880.6 954.3C880.6 963.9 885.5 983.3 886.4 989.1" stroke-dasharray="4 2.5"/>
<path class="n" stroke-width="1.95" d="M889.9 951.9C889.1 954.3 884.9 959.3 885.3 965.9C885.7 972.5 891.1 987.2 892.2 991.4" stroke-dasharray="4 2.5"/>
<path class="n" stroke-width="1.95" d="M874.8 882.3L888.7 885.8" stroke-dasharray="4 2.5"/>
<path class="n" stroke-width="1.95" d="M871.3 917.1L882.9 920.6" stroke-dasharray="4 2.5"/>
<path class="n" stroke-width="2.11" d="M937.5 810.4C938.3 810 940.2 807.8 942.1 808C944.1 808.2 944.5 808.8 949.1 811.5C953.7 814.2 961.1 819.1 970 824.3C978.9 829.5 994.4 837.8 1002.5 842.9C1010.6 847.9 1016 852.5 1018.7 854.5" stroke-dasharray="4 2.5"/>
<path class="n" stroke-width="2.43" d="M937.5 810.4C937.7 811.5 936.3 814 938.7 817.3C941 820.6 949.3 828 951.4 830.1"/>
<path class="n" stroke-width="2.59" d="M956.1 831.2L970 830.1"/>
<path class="n" stroke-width="1.95" d="M974.6 819.6L1016.4 845.2L1025.7 861.4" stroke-dasharray="4 2.5"/>
<path class="n" stroke-width="2.27" d="M916.6 847.5C919.3 846.3 927 842.9 932.9 840.5C938.7 838.2 946.4 834 951.4 833.6C956.5 833.2 960.5 835.1 963 838.2C965.5 841.3 965.9 849.8 966.5 852.1"/>
<path class="n" stroke-width="1.95" d="M909.6 866.1C912.7 864.1 922 857.9 928.2 854.5C934.4 851 941.4 847.3 946.8 845.2C952.2 843 958.4 842.3 960.7 841.7" stroke-dasharray="4 2.5"/>
<path class="n" stroke-width="1.95" d="M912 873C915.4 871.1 926.3 864.9 932.9 861.4C939.4 857.9 946.4 854.5 951.4 852.1C956.5 849.8 961.1 848.3 963 847.5" stroke-dasharray="4 2.5"/>
<path class="n" stroke-width="2.27" d="M916.6 847.5C917.4 844.8 919.3 834.1 921.2 831.2C923.2 828.3 926.3 828.5 928.2 830.1C930.1 831.6 932.1 838.8 932.9 840.5"/>
<path class="n" stroke-width="2.27" d="M929.4 831.2C929.9 830.3 931.1 826.2 932.9 825.4C934.6 824.7 937.9 824.9 939.8 826.6C941.7 828.3 943.7 834.3 944.5 835.9"/>
<path class="n" stroke-width="2.27" d="M907.3 826.6C907.7 829.3 909.4 837.4 909.6 842.9C909.8 848.3 908.1 853.7 908.5 859.1C908.9 864.5 910.6 871.5 912 875.3C913.3 879.2 915.8 881.2 916.6 882.3"/>
<path class="n" stroke-width="2.11" d="M932.9 854.5C934.4 854.1 939 853.3 942.1 852.1C945.2 851 949.9 848.3 951.4 847.5"/>
<path class="n" stroke-width="2.27" d="M1023.4 873C1024.9 872.4 1029.2 869.5 1032.7 869.5C1036.1 869.5 1042.3 872.4 1044.3 873"/>
<path class="n" stroke-width="1.95" d="M1025.7 880L1035 907.8" stroke-dasharray="4 2.5"/>
<path class="n" stroke-width="1.95" d="M1039.6 876.5L1033.8 884.6" stroke-dasharray="4 2.5"/>
<path class="n" stroke-width="2.11" d="M1022.2 883.5L1025.7 882.5"/>
<path class="n" stroke-width="2.11" d="M1023.3 886.5L1026.7 885.6"/>
<path class="n" stroke-width="2.11" d="M1024.3 889.5L1027.8 888.6"/>
<path class="n" stroke-width="2.11" d="M1025.4 892.5L1028.8 891.6"/>
<path class="n" stroke-width="2.11" d="M1026.4 895.5L1029.9 894.6"/>
<path class="n" stroke-width="2.11" d="M1027.4 898.6L1030.9 897.6"/>
<path class="n" stroke-width="2.11" d="M1028.5 901.6L1032 900.6"/>
<path class="n" stroke-width="2.11" d="M1029.5 904.6L1033 903.7"/>
<path class="n" stroke-width="2.11" d="M1030.6 907.6L1034.1 906.7"/>
<circle class="k" cx="959.1" cy="925.3" r="15.8"/>
<text x="959.1" y="931" font-size="16" font-weight="bold" fill="#fff" text-anchor="middle">5</text>
</g>

<!-- 30_p14.svg -->
<g>
<path class="o" stroke-width="2.91" d="M1190.8 661.3L1228.7 648.6L1243.7 653.2L1244.2 667.1L1232.1 670.6L1190.8 678.7Z"/>
<path class="n" stroke-width="1.95" d="M1228.7 660.2L1243.7 657.9" stroke-dasharray="4 2.5"/>
<path class="o" stroke-width="2.75" d="M1246.1 672.2L1267 666L1280.9 672.9L1281.3 679.9L1273.9 676.4L1272.8 679.9L1278.6 683.4"/>
<path class="o" stroke-width="2.91" d="M1315.7 741.4C1316 744.2 1317.3 766.4 1319.2 769.3C1321 772.1 1331.4 770 1334.3 769.7C1337.2 769.5 1345.8 767.9 1348.2 767C1350.6 766 1357.5 765.6 1358.6 760C1359.8 754.4 1360.4 717 1359.3 711.2C1358.3 705.5 1351.2 703.6 1348.2 702.4C1345.2 701.3 1331.5 699.9 1329.6 699.6"/>
<path class="n" stroke-width="2.43" d="M1315.7 739.1C1318 738.7 1324.2 738.3 1329.6 736.8C1335 735.2 1343.4 732.5 1348.2 729.8C1353 727.1 1356.9 722.1 1358.6 720.5"/>
<path class="n" stroke-width="1.95" d="M1319.2 769.3C1322.5 768.7 1332.3 767.9 1338.9 765.8C1345.5 763.7 1355.4 758.1 1358.6 756.5" stroke-dasharray="4 2.5"/>
<path class="o" stroke-width="2.75" d="M1288.3 686.9L1290.2 697.3L1302.9 702L1315.7 698.5L1317.6 686.9"/>
<ellipse class="o" stroke-width="2.75" cx="1302.9" cy="686.4" rx="14.6" ry="5.1" transform="rotate(5 1302.9 686.4)"/>
<ellipse class="n" stroke-width="2.11" cx="1302.9" cy="686.4" rx="7" ry="2.3" transform="rotate(5 1302.9 686.4)"/>
<path class="o" stroke-width="2.75" d="M1318.5 704.3L1320.3 717L1334.3 721L1347 717L1348.2 704.3"/>
<ellipse class="o" stroke-width="2.75" cx="1333.3" cy="700.8" rx="14.9" ry="5.6" transform="rotate(5 1333.3 700.8)"/>
<ellipse class="n" stroke-width="2.11" cx="1333.3" cy="700.8" rx="7.4" ry="2.6" transform="rotate(5 1333.3 700.8)"/>
<path class="n" stroke-width="2.27" d="M1315.7 722.9C1318.4 722.7 1325.8 723.2 1331.9 721.7C1338.1 720.1 1349.4 714.9 1352.8 713.6"/>
<path class="o" stroke-width="3.23" d="M1206.6 664.8C1212.6 662.5 1217 659.4 1227.5 662.5C1237.9 665.6 1255 676 1269.3 683.4C1283.6 690.7 1305.4 699.3 1313.4 706.6C1321.3 714 1316.9 720.9 1316.9 727.5C1316.9 734.1 1316.7 741.4 1313.4 746.1C1310.1 750.7 1296.7 753 1297.1 755.3C1297.5 757.7 1311.1 756.9 1315.7 760C1320.3 763.1 1321.9 767.3 1325 773.9C1328.1 780.5 1331.8 790.6 1334.3 799.5C1336.8 808.4 1339.9 819.2 1340.1 827.3C1340.3 835.4 1336.8 838.5 1335.4 848.2C1334.1 857.9 1335.2 878.7 1331.9 885.3C1328.7 892 1320 888.9 1315.7 888.1C1311.4 887.4 1307.6 888.1 1306.4 880.7C1305.3 873.3 1307.2 850.5 1308.7 843.6C1310.3 836.6 1314.9 843.2 1315.7 838.9C1316.5 834.7 1315.7 825 1313.4 818C1311.1 811.1 1306.8 802.7 1301.8 797.1C1296.7 791.5 1290.2 786.7 1283.2 784.4C1276.2 782 1269.3 782.6 1260 783.2C1250.7 783.8 1236.4 785.5 1227.5 787.8C1218.6 790.2 1214 791.7 1206.6 797.1C1199.3 802.5 1189.2 813.4 1183.4 820.3C1177.6 827.3 1173.5 831.9 1171.8 838.9C1170 845.9 1173.1 854.2 1172.9 862.1C1172.7 870.1 1172 880.5 1170.6 886.5C1169.3 892.5 1168.5 896 1164.8 898.1C1161.1 900.2 1152.4 899.9 1148.6 899.3C1144.8 898.6 1142.8 900.3 1142.1 894.2C1141.3 888 1142.8 872.1 1143.9 862.1C1145 852.1 1145.1 844.3 1148.6 834.3C1152.1 824.2 1158.2 814.9 1164.8 801.8C1171.4 788.6 1181.1 769.7 1188 755.3C1195 741 1205.4 724 1206.6 715.9C1207.8 707.8 1197.9 710.9 1195 706.6C1192.1 702.3 1189.8 695.4 1189.2 690.4C1188.6 685.3 1188.6 680.7 1191.5 676.4C1194.4 672.2 1200.6 667.1 1206.6 664.8Z"/>
<ellipse class="n" stroke-width="2.27" cx="1296" cy="727.5" rx="21.4" ry="25.1" transform="rotate(10 1296 727.5)" stroke-dasharray="4 2.5"/>
<ellipse class="n" stroke-width="2.59" cx="1296" cy="727.5" rx="18.6" ry="22.1" transform="rotate(10 1296 727.5)"/>
<ellipse class="o" stroke-width="3.39" cx="1295.3" cy="728" rx="13.5" ry="17.6" transform="rotate(10 1295.3 728)"/>
<path class="n" stroke-width="2.43" d="M1299.5 718.2C1298.3 720.1 1294 725.9 1292.5 729.8C1290.9 733.7 1290.6 739.5 1290.2 741.4"/>
<path class="n" stroke-width="2.11" d="M1308.7 722.9C1308.9 724.4 1310.5 729 1309.9 732.1C1309.3 735.2 1306 739.9 1305.3 741.4"/>
<path class="n" stroke-width="2.59" d="M1214 689.2C1213.6 691.7 1212.5 699.8 1211.2 704.3C1210 708.7 1207.4 714 1206.6 715.9"/>
<path class="n" stroke-width="1.95" d="M1222.9 691.5L1264.6 710.1" stroke-dasharray="9 3 2 3"/>
<path class="n" stroke-width="1.95" d="M1234.5 711.2L1176.4 797.1" stroke-dasharray="9 3 2 3"/>
<path class="n" stroke-width="1.95" d="M1267 715.9L1246.1 734.5L1204.3 797.1" stroke-dasharray="9 3 2 3"/>
<path class="n" stroke-width="2.59" d="M1255.3 735.6C1251.5 739.7 1240.3 750.5 1232.1 760C1224 769.5 1214.7 782.4 1206.6 792.5C1198.5 802.5 1187.3 815.7 1183.4 820.3"/>
<path class="n" stroke-width="2.11" d="M1206.6 797.1C1205.4 797.5 1204.7 794.4 1199.6 799.5C1194.6 804.5 1182.2 818.8 1176.4 827.3C1170.6 835.8 1166.8 846.7 1164.8 850.5"/>
<path class="n" stroke-width="2.43" d="M1250.7 739.1L1256.5 736.8L1283.2 750.7"/>
<path class="n" stroke-width="2.11" d="M1247.2 762.3L1255.3 746.1"/>
<path class="n" stroke-width="2.11" d="M1261.2 765.8L1268.1 749.5"/>
<path class="n" stroke-width="2.11" d="M1273.9 764.6L1278.6 753"/>
<path class="n" stroke-width="2.11" d="M1247.2 762.3L1255.3 763.5"/>
<path class="n" stroke-width="2.59" d="M1227.5 773.9C1229 773 1232.9 768.7 1236.8 768.1C1240.6 767.5 1246.1 769.9 1250.7 770.4C1255.3 771 1260.8 772.2 1264.6 771.6C1268.5 771 1270.8 767.3 1273.9 767C1277 766.6 1281.7 767 1283.2 769.3C1284.8 771.6 1283.2 778.9 1283.2 780.9"/>
<path class="n" stroke-width="2.43" d="M1227.5 773.9L1228.7 786.7"/>
<path class="n" stroke-width="1.95" d="M1229.8 778.6L1250.7 775.1" stroke-dasharray="4 2.5"/>
<path class="n" stroke-width="2.59" d="M1283.2 784.4L1297.1 756.5"/>
<path class="n" stroke-width="1.95" d="M1297.1 760C1299.5 764.6 1306.8 778.6 1311.1 787.8C1315.3 797.1 1320 807.2 1322.7 815.7C1325.4 824.2 1326.5 835 1327.3 838.9" stroke-dasharray="9 3 2 3"/>
<path class="n" stroke-width="2.11" d="M1318 773.9C1319.6 778.2 1324.8 790.6 1327.3 799.5C1329.8 808.4 1332.1 822.7 1333.1 827.3" stroke-dasharray="2 2"/>
<path class="n" stroke-width="2.27" d="M1322.7 834.3C1323.8 835.2 1327.5 837.8 1329.6 840.1C1331.8 842.4 1334.5 846.8 1335.4 848.2"/>
<path class="n" stroke-width="2.11" d="M1315.7 843.6L1315.7 883" stroke-dasharray="4 2.5"/>
<path class="n" stroke-width="2.11" d="M1322.7 845.9L1322.7 884.2" stroke-dasharray="4 2.5"/>
<path class="n" stroke-width="2.27" d="M1322.7 845.9L1331.9 844.7"/>
<path class="n" stroke-width="2.59" d="M1152.1 862.1C1152.8 860.8 1154.2 855.7 1156.7 854C1159.2 852.3 1164.4 851.1 1167.1 851.7C1169.9 852.3 1172.2 856.5 1173.2 857.5"/>
<path class="n" stroke-width="1.95" d="M1155.5 859.8C1155 862.5 1152.4 870.3 1152.1 876.1C1151.7 881.9 1153 891.5 1153.2 894.6" stroke-dasharray="4 2.5"/>
<path class="n" stroke-width="1.95" d="M1167.1 845.9C1165.8 848.2 1161 854.8 1159 859.8C1157.1 864.8 1156.1 873.3 1155.5 876.1" stroke-dasharray="2 2"/>
<circle class="k" cx="1245.4" cy="848.2" r="15.3"/>
<text x="1245.4" y="853.8" font-size="15.5" font-weight="bold" fill="#fff" text-anchor="middle">3-4</text>
</g>

<!-- 80_labels.svg -->
<g class="n" stroke-width="1.7">
<path d="M138.3 43V549" stroke-width="2.2"/>
<path d="M341 43V338L378 392" stroke-width="1.4"/>
<path d="M420.7 43V240" stroke-width="2.2"/>
<path d="M508.7 43V490"/>
<path d="M705.5 43V405"/>
<path d="M811 43V285L893 340" stroke-width="2.1"/>
<path d="M911 43V100" stroke-width="1.3"/>
<path d="M1090 43V150"/>
<path d="M1264 43V277"/>
<path d="M1331.5 43V371L1282 440" stroke-width="1.8"/>
<path d="M246.5 815V1120"/>
<path d="M580 672V1120"/>
<path d="M725 788V1118" stroke-width="1.25"/>
<path d="M890 1000V1120"/>
<path d="M1100 662V1118" stroke-width="1.2"/>
<path d="M1190 1118V942L1167 899" stroke-width="1.3"/>
</g>
<g font-size="24" text-anchor="middle" fill="#000" stroke="#000" stroke-width="0.4">
<text x="137.5" y="36.5">6</text>
<text x="338" y="36.5">16</text>
<text x="419" y="36.5">15</text>
<text x="510.5" y="36.5">7</text>
<text x="706" y="36.5">8</text>
<text x="811" y="36.5">1</text>
<text x="912" y="36.5">2</text>
<text x="1090" y="36.5">3</text>
<text x="1262.5" y="36.5">4</text>
<text x="1331" y="36.5">5</text>
</g>
<g font-size="26" text-anchor="middle" fill="#000" stroke="#000" stroke-width="0.4">
<text x="247" y="1145">9</text>
<text x="579" y="1145">10</text>
<text x="726" y="1145">11</text>
<text x="891" y="1145">12</text>
<text x="1101" y="1145">13</text>
<text x="1190.5" y="1145">14</text>
</g>

<!-- 90_watermark.svg -->
<style>.wc{font-family:'DejaVu Sans Condensed','DejaVu Sans','Liberation Sans',sans-serif;font-stretch:condensed;font-kerning:none}.ww{font-family:'DejaVu Sans','Liberation Sans',sans-serif;font-kerning:none}.wd{font-family:'Liberation Serif',serif;font-kerning:none}</style>
<g style="mix-blend-mode:multiply">
<g transform="translate(72.6,123.7) rotate(35)" font-size="97.0" font-weight="bold" stroke-linejoin="miter" stroke-miterlimit="3">
<text fill="none" stroke="#000" stroke-width="12.7"><tspan x="-1.4" y="0" class="wc">A</tspan><tspan x="66.4" y="0" class="wc">V</tspan><tspan x="147.5" y="0" class="wc">T</tspan><tspan x="215.5" y="0" class="ww">O</tspan><tspan x="307.0" y="0" class="ww">S</tspan><tspan x="381.3" y="0" class="wc">K</tspan><tspan x="463.5" y="0" class="wc">A</tspan><tspan x="537.5" y="0" class="wc">Z</tspan><tspan x="606.1" y="0" class="wc">K</tspan><tspan x="681.9" y="0" class="wc">A</tspan><tspan x="758.2" y="2" class="wd" font-size="114">.</tspan><tspan x="784.9" y="0" class="ww">D</tspan><tspan x="874.2" y="0" class="ww">C</tspan><tspan x="946.5" y="0" class="wc">A</tspan><tspan x="1020.8" y="0" class="wc">T</tspan><tspan x="1087.3" y="2" class="wd" font-size="114">.</tspan><tspan x="1128.8" y="0" class="ww">O</tspan><tspan x="1221.6" y="0" class="ww">N</tspan><tspan x="1313.2" y="0" class="wc">L</tspan><tspan x="1379.4" y="0" class="ww">I</tspan><tspan x="1424.7" y="0" class="ww">N</tspan><tspan x="1514.8" y="0" class="wc">E</tspan></text>
<text fill="none" stroke="#fff" stroke-width="9.0"><tspan x="-1.4" y="0" class="wc">A</tspan><tspan x="66.4" y="0" class="wc">V</tspan><tspan x="147.5" y="0" class="wc">T</tspan><tspan x="215.5" y="0" class="ww">O</tspan><tspan x="307.0" y="0" class="ww">S</tspan><tspan x="381.3" y="0" class="wc">K</tspan><tspan x="463.5" y="0" class="wc">A</tspan><tspan x="537.5" y="0" class="wc">Z</tspan><tspan x="606.1" y="0" class="wc">K</tspan><tspan x="681.9" y="0" class="wc">A</tspan><tspan x="758.2" y="2" class="wd" font-size="114">.</tspan><tspan x="784.9" y="0" class="ww">D</tspan><tspan x="874.2" y="0" class="ww">C</tspan><tspan x="946.5" y="0" class="wc">A</tspan><tspan x="1020.8" y="0" class="wc">T</tspan><tspan x="1087.3" y="2" class="wd" font-size="114">.</tspan><tspan x="1128.8" y="0" class="ww">O</tspan><tspan x="1221.6" y="0" class="ww">N</tspan><tspan x="1313.2" y="0" class="wc">L</tspan><tspan x="1379.4" y="0" class="ww">I</tspan><tspan x="1424.7" y="0" class="ww">N</tspan><tspan x="1514.8" y="0" class="wc">E</tspan></text>
<text fill="none" stroke="#000" stroke-width="3.7"><tspan x="-1.4" y="0" class="wc">A</tspan><tspan x="66.4" y="0" class="wc">V</tspan><tspan x="147.5" y="0" class="wc">T</tspan><tspan x="215.5" y="0" class="ww">O</tspan><tspan x="307.0" y="0" class="ww">S</tspan><tspan x="381.3" y="0" class="wc">K</tspan><tspan x="463.5" y="0" class="wc">A</tspan><tspan x="537.5" y="0" class="wc">Z</tspan><tspan x="606.1" y="0" class="wc">K</tspan><tspan x="681.9" y="0" class="wc">A</tspan><tspan x="758.2" y="2" class="wd" font-size="114">.</tspan><tspan x="784.9" y="0" class="ww">D</tspan><tspan x="874.2" y="0" class="ww">C</tspan><tspan x="946.5" y="0" class="wc">A</tspan><tspan x="1020.8" y="0" class="wc">T</tspan><tspan x="1087.3" y="2" class="wd" font-size="114">.</tspan><tspan x="1128.8" y="0" class="ww">O</tspan><tspan x="1221.6" y="0" class="ww">N</tspan><tspan x="1313.2" y="0" class="wc">L</tspan><tspan x="1379.4" y="0" class="ww">I</tspan><tspan x="1424.7" y="0" class="ww">N</tspan><tspan x="1514.8" y="0" class="wc">E</tspan></text>
<text fill="#fff" stroke="none"><tspan x="-1.4" y="0" class="wc">A</tspan><tspan x="66.4" y="0" class="wc">V</tspan><tspan x="147.5" y="0" class="wc">T</tspan><tspan x="215.5" y="0" class="ww">O</tspan><tspan x="307.0" y="0" class="ww">S</tspan><tspan x="381.3" y="0" class="wc">K</tspan><tspan x="463.5" y="0" class="wc">A</tspan><tspan x="537.5" y="0" class="wc">Z</tspan><tspan x="606.1" y="0" class="wc">K</tspan><tspan x="681.9" y="0" class="wc">A</tspan><tspan x="758.2" y="2" class="wd" font-size="114">.</tspan><tspan x="784.9" y="0" class="ww">D</tspan><tspan x="874.2" y="0" class="ww">C</tspan><tspan x="946.5" y="0" class="wc">A</tspan><tspan x="1020.8" y="0" class="wc">T</tspan><tspan x="1087.3" y="2" class="wd" font-size="114">.</tspan><tspan x="1128.8" y="0" class="ww">O</tspan><tspan x="1221.6" y="0" class="ww">N</tspan><tspan x="1313.2" y="0" class="wc">L</tspan><tspan x="1379.4" y="0" class="ww">I</tspan><tspan x="1424.7" y="0" class="ww">N</tspan><tspan x="1514.8" y="0" class="wc">E</tspan></text>
</g>
</g>

</svg>
</body></html>
